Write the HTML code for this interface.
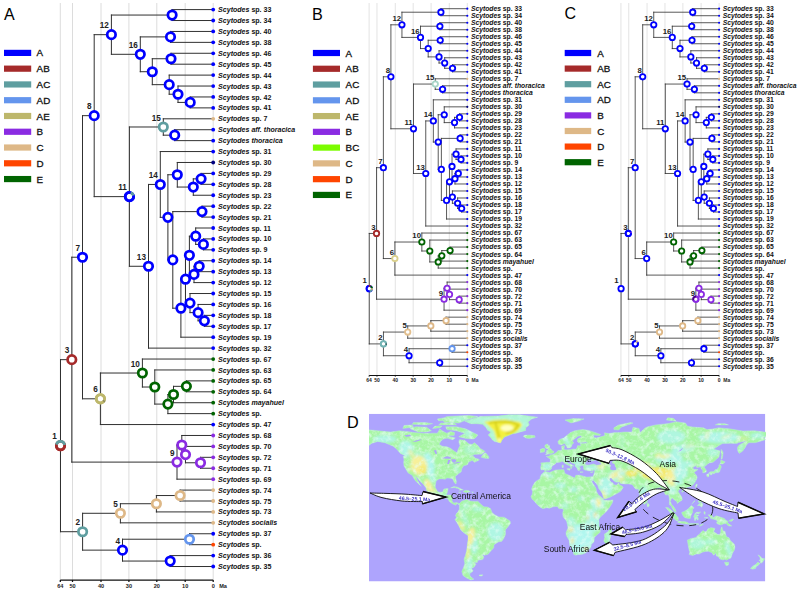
<!DOCTYPE html>
<html><head><meta charset="utf-8"><title>Scytodes biogeography</title>
<style>html,body{margin:0;padding:0;background:#fff}body{width:800px;height:613px;overflow:hidden;font-family:"Liberation Sans",sans-serif}svg{display:block}</style>
</head><body>
<svg width="800" height="613" viewBox="0 0 800 613" font-family="'Liberation Sans', sans-serif">
<text x="4" y="20.3" font-size="16">A</text>
<text x="312" y="19.5" font-size="16.2">B</text>
<text x="564.5" y="19.3" font-size="16">C</text>
<text x="347.1" y="427.6" font-size="16.2">D</text>
<rect x="4" y="49.8" width="27.2" height="6.2" fill="#0000ff"/>
<text x="36.6" y="56.43" font-size="9.8" fill="#111" stroke="#111" stroke-width="0.3">A</text>
<rect x="4" y="65.57" width="27.2" height="6.2" fill="#a52a2a"/>
<text x="36.6" y="72.2" font-size="9.8" fill="#111" stroke="#111" stroke-width="0.3">AB</text>
<rect x="4" y="81.34" width="27.2" height="6.2" fill="#5f9ea0"/>
<text x="36.6" y="87.97" font-size="9.8" fill="#111" stroke="#111" stroke-width="0.3">AC</text>
<rect x="4" y="97.11" width="27.2" height="6.2" fill="#6495ed"/>
<text x="36.6" y="103.74" font-size="9.8" fill="#111" stroke="#111" stroke-width="0.3">AD</text>
<rect x="4" y="112.88" width="27.2" height="6.2" fill="#bdb76b"/>
<text x="36.6" y="119.51" font-size="9.8" fill="#111" stroke="#111" stroke-width="0.3">AE</text>
<rect x="4" y="128.65" width="27.2" height="6.2" fill="#8a2be2"/>
<text x="36.6" y="135.28" font-size="9.8" fill="#111" stroke="#111" stroke-width="0.3">B</text>
<rect x="4" y="144.42" width="27.2" height="6.2" fill="#deb887"/>
<text x="36.6" y="151.05" font-size="9.8" fill="#111" stroke="#111" stroke-width="0.3">C</text>
<rect x="4" y="160.19" width="27.2" height="6.2" fill="#ff4500"/>
<text x="36.6" y="166.82" font-size="9.8" fill="#111" stroke="#111" stroke-width="0.3">D</text>
<rect x="4" y="175.96" width="27.2" height="6.2" fill="#006400"/>
<text x="36.6" y="182.59" font-size="9.8" fill="#111" stroke="#111" stroke-width="0.3">E</text>
<rect x="312.9" y="49.9" width="27.1" height="6.2" fill="#0000ff"/>
<text x="345.6" y="56.53" font-size="9.8" fill="#111" stroke="#111" stroke-width="0.3">A</text>
<rect x="312.9" y="65.67" width="27.1" height="6.2" fill="#a52a2a"/>
<text x="345.6" y="72.3" font-size="9.8" fill="#111" stroke="#111" stroke-width="0.3">AB</text>
<rect x="312.9" y="81.44" width="27.1" height="6.2" fill="#5f9ea0"/>
<text x="345.6" y="88.07" font-size="9.8" fill="#111" stroke="#111" stroke-width="0.3">AC</text>
<rect x="312.9" y="97.21" width="27.1" height="6.2" fill="#6495ed"/>
<text x="345.6" y="103.84" font-size="9.8" fill="#111" stroke="#111" stroke-width="0.3">AD</text>
<rect x="312.9" y="112.98" width="27.1" height="6.2" fill="#bdb76b"/>
<text x="345.6" y="119.61" font-size="9.8" fill="#111" stroke="#111" stroke-width="0.3">AE</text>
<rect x="312.9" y="128.75" width="27.1" height="6.2" fill="#8a2be2"/>
<text x="345.6" y="135.38" font-size="9.8" fill="#111" stroke="#111" stroke-width="0.3">B</text>
<rect x="312.9" y="144.52" width="27.1" height="6.2" fill="#7cfc00"/>
<text x="345.6" y="151.15" font-size="9.8" fill="#111" stroke="#111" stroke-width="0.3">BC</text>
<rect x="312.9" y="160.29" width="27.1" height="6.2" fill="#deb887"/>
<text x="345.6" y="166.92" font-size="9.8" fill="#111" stroke="#111" stroke-width="0.3">C</text>
<rect x="312.9" y="176.06" width="27.1" height="6.2" fill="#ff4500"/>
<text x="345.6" y="182.69" font-size="9.8" fill="#111" stroke="#111" stroke-width="0.3">D</text>
<rect x="312.9" y="191.83" width="27.1" height="6.2" fill="#006400"/>
<text x="345.6" y="198.46" font-size="9.8" fill="#111" stroke="#111" stroke-width="0.3">E</text>
<rect x="564.7" y="49.9" width="26.5" height="6.2" fill="#0000ff"/>
<text x="597.2" y="56.53" font-size="9.8" fill="#111" stroke="#111" stroke-width="0.3">A</text>
<rect x="564.7" y="65.5" width="26.5" height="6.2" fill="#a52a2a"/>
<text x="597.2" y="72.13" font-size="9.8" fill="#111" stroke="#111" stroke-width="0.3">AB</text>
<rect x="564.7" y="81.1" width="26.5" height="6.2" fill="#5f9ea0"/>
<text x="597.2" y="87.73" font-size="9.8" fill="#111" stroke="#111" stroke-width="0.3">AC</text>
<rect x="564.7" y="96.7" width="26.5" height="6.2" fill="#6495ed"/>
<text x="597.2" y="103.33" font-size="9.8" fill="#111" stroke="#111" stroke-width="0.3">AD</text>
<rect x="564.7" y="112.3" width="26.5" height="6.2" fill="#8a2be2"/>
<text x="597.2" y="118.93" font-size="9.8" fill="#111" stroke="#111" stroke-width="0.3">B</text>
<rect x="564.7" y="127.9" width="26.5" height="6.2" fill="#deb887"/>
<text x="597.2" y="134.53" font-size="9.8" fill="#111" stroke="#111" stroke-width="0.3">C</text>
<rect x="564.7" y="143.5" width="26.5" height="6.2" fill="#ff4500"/>
<text x="597.2" y="150.13" font-size="9.8" fill="#111" stroke="#111" stroke-width="0.3">D</text>
<rect x="564.7" y="159.1" width="26.5" height="6.2" fill="#006400"/>
<text x="597.2" y="165.73" font-size="9.8" fill="#111" stroke="#111" stroke-width="0.3">E</text>
<g id="tA"><path d="M60.3 3V580M72.5 3V580M101 3V580M128.9 3V580M156.8 3V580M185.2 3V580M213.2 3V580" stroke="#dcdcdc" stroke-width="1" fill="none"/>
<path d="M172.1 9.6L213.2 9.6M172.1 20.52L213.2 20.52M172.1 9.6L172.1 20.52M111.4 15.06L172.1 15.06M170.5 31.44L213.2 31.44M170.5 42.36L213.2 42.36M170.5 31.44L170.5 42.36M140.3 36.9L170.5 36.9M171 53.28L213.2 53.28M171 64.2L213.2 64.2M171 53.28L171 64.2M152.3 58.74L171 58.74M169.2 75.12L213.2 75.12M178 86.04L213.2 86.04M190.2 96.96L213.2 96.96M190.2 107.88L213.2 107.88M190.2 96.96L190.2 107.88M178 102.42L190.2 102.42M178 86.04L178 102.42M169.2 94.23L178 94.23M169.2 75.12L169.2 94.23M152.3 84.67L169.2 84.67M152.3 58.74L152.3 84.67M140.3 71.71L152.3 71.71M140.3 36.9L140.3 71.71M111.4 54.3L140.3 54.3M111.4 15.06L111.4 54.3M94.2 34.68L111.4 34.68M163.3 118.8L213.2 118.8M174.7 129.72L213.2 129.72M174.7 140.64L213.2 140.64M174.7 129.72L174.7 140.64M163.3 135.18L174.7 135.18M163.3 118.8L163.3 135.18M129.4 126.99L163.3 126.99M160.3 151.56L213.2 151.56M177.3 162.48L213.2 162.48M201.1 173.4L213.2 173.4M201.1 184.32L213.2 184.32M201.1 173.4L201.1 184.32M193.3 178.86L201.1 178.86M193.3 195.24L213.2 195.24M193.3 178.86L193.3 195.24M177.3 187.05L193.3 187.05M177.3 162.48L177.3 187.05M167.9 174.76L177.3 174.76M202 206.16L213.2 206.16M202 217.08L213.2 217.08M202 206.16L202 217.08M172.8 211.62L202 211.62M195.7 228L213.2 228M203.4 238.92L213.2 238.92M203.4 249.84L213.2 249.84M203.4 238.92L203.4 249.84M195.7 244.38L203.4 244.38M195.7 228L195.7 244.38M189.4 236.19L195.7 236.19M199.2 260.76L213.2 260.76M199.2 271.68L213.2 271.68M199.2 260.76L199.2 271.68M194 266.22L199.2 266.22M194 282.6L213.2 282.6M194 266.22L194 282.6M189.4 274.41L194 274.41M189.4 236.19L189.4 274.41M185.5 255.3L189.4 255.3M190 293.52L213.2 293.52M198.1 304.44L213.2 304.44M204.4 315.36L213.2 315.36M204.4 326.28L213.2 326.28M204.4 315.36L204.4 326.28M198.1 320.82L204.4 320.82M198.1 304.44L198.1 320.82M190 312.63L198.1 312.63M190 293.52L190 312.63M185.5 303.08L190 303.08M185.5 255.3L185.5 303.08M180.9 279.19L185.5 279.19M180.9 337.2L213.2 337.2M180.9 279.19L180.9 337.2M172.8 308.19L180.9 308.19M172.8 211.62L172.8 308.19M167.9 259.91L172.8 259.91M167.9 174.76L167.9 259.91M160.3 217.34L167.9 217.34M160.3 151.56L160.3 217.34M148.5 184.45L160.3 184.45M148.5 348.12L213.2 348.12M148.5 184.45L148.5 348.12M129.4 266.28L148.5 266.28M129.4 126.99L129.4 266.28M94.2 196.64L129.4 196.64M94.2 34.68L94.2 196.64M82.5 115.66L94.2 115.66M142.4 359.04L213.2 359.04M154.8 369.96L213.2 369.96M186.4 380.88L213.2 380.88M186.4 391.8L213.2 391.8M186.4 380.88L186.4 391.8M173.5 386.34L186.4 386.34M173.5 402.72L213.2 402.72M173.5 386.34L173.5 402.72M167.9 394.53L173.5 394.53M167.9 413.64L213.2 413.64M167.9 394.53L167.9 413.64M154.8 404.09L167.9 404.09M154.8 369.96L154.8 404.09M142.4 387.02L154.8 387.02M142.4 359.04L142.4 387.02M100.4 373.03L142.4 373.03M100.4 424.56L213.2 424.56M100.4 373.03L100.4 424.56M82.5 398.8L100.4 398.8M82.5 115.66L82.5 398.8M71.8 257.23L82.5 257.23M181.8 435.48L213.2 435.48M185.5 446.4L213.2 446.4M200.5 457.32L213.2 457.32M200.5 468.24L213.2 468.24M200.5 457.32L200.5 468.24M185.5 462.78L200.5 462.78M185.5 446.4L185.5 462.78M181.8 454.59L185.5 454.59M181.8 435.48L181.8 454.59M177 445.04L181.8 445.04M177 479.16L213.2 479.16M177 445.04L177 479.16M71.8 462.1L177 462.1M71.8 257.23L71.8 462.1M60.5 359.66L71.8 359.66M180.1 490.08L213.2 490.08M180.1 501L213.2 501M180.1 490.08L180.1 501M156.4 495.54L180.1 495.54M156.4 511.92L213.2 511.92M156.4 495.54L156.4 511.92M120.4 503.73L156.4 503.73M120.4 522.84L213.2 522.84M120.4 503.73L120.4 522.84M82.6 513.29L120.4 513.29M189.5 533.76L213.2 533.76M189.5 544.68L213.2 544.68M189.5 533.76L189.5 544.68M122.5 539.22L189.5 539.22M170.2 555.6L213.2 555.6M170.2 566.52L213.2 566.52M170.2 555.6L170.2 566.52M122.5 561.06L170.2 561.06M122.5 539.22L122.5 561.06M82.6 550.14L122.5 550.14M82.6 513.29L82.6 550.14M60.5 531.71L82.6 531.71M60.5 359.66L60.5 531.71" stroke="#303030" stroke-width="1" fill="none" stroke-linecap="square"/>
<circle cx="213.2" cy="9.6" r="1.9" fill="#0000ff"/>
<circle cx="213.2" cy="20.52" r="1.9" fill="#0000ff"/>
<circle cx="213.2" cy="31.44" r="1.9" fill="#0000ff"/>
<circle cx="213.2" cy="42.36" r="1.9" fill="#0000ff"/>
<circle cx="213.2" cy="53.28" r="1.9" fill="#0000ff"/>
<circle cx="213.2" cy="64.2" r="1.9" fill="#0000ff"/>
<circle cx="213.2" cy="75.12" r="1.9" fill="#0000ff"/>
<circle cx="213.2" cy="86.04" r="1.9" fill="#0000ff"/>
<circle cx="213.2" cy="96.96" r="1.9" fill="#0000ff"/>
<circle cx="213.2" cy="107.88" r="1.9" fill="#0000ff"/>
<circle cx="213.2" cy="118.8" r="1.9" fill="#deb887"/>
<circle cx="213.2" cy="129.72" r="1.9" fill="#0000ff"/>
<circle cx="213.2" cy="140.64" r="1.9" fill="#0000ff"/>
<circle cx="213.2" cy="151.56" r="1.9" fill="#0000ff"/>
<circle cx="213.2" cy="162.48" r="1.9" fill="#000080"/>
<circle cx="213.2" cy="173.4" r="1.9" fill="#0000ff"/>
<circle cx="213.2" cy="184.32" r="1.9" fill="#0000ff"/>
<circle cx="213.2" cy="195.24" r="1.9" fill="#0000ff"/>
<circle cx="213.2" cy="206.16" r="1.9" fill="#0000ff"/>
<circle cx="213.2" cy="217.08" r="1.9" fill="#0000ff"/>
<circle cx="213.2" cy="228" r="1.9" fill="#0000ff"/>
<circle cx="213.2" cy="238.92" r="1.9" fill="#0000ff"/>
<circle cx="213.2" cy="249.84" r="1.9" fill="#0000ff"/>
<circle cx="213.2" cy="260.76" r="1.9" fill="#0000ff"/>
<circle cx="213.2" cy="271.68" r="1.9" fill="#0000ff"/>
<circle cx="213.2" cy="282.6" r="1.9" fill="#0000ff"/>
<circle cx="213.2" cy="293.52" r="1.9" fill="#0000ff"/>
<circle cx="213.2" cy="304.44" r="1.9" fill="#0000ff"/>
<circle cx="213.2" cy="315.36" r="1.9" fill="#0000ff"/>
<circle cx="213.2" cy="326.28" r="1.9" fill="#0000ff"/>
<circle cx="213.2" cy="337.2" r="1.9" fill="#0000ff"/>
<circle cx="213.2" cy="348.12" r="1.9" fill="#0000ff"/>
<circle cx="213.2" cy="359.04" r="1.9" fill="#006400"/>
<circle cx="213.2" cy="369.96" r="1.9" fill="#006400"/>
<circle cx="213.2" cy="380.88" r="1.9" fill="#006400"/>
<circle cx="213.2" cy="391.8" r="1.9" fill="#006400"/>
<circle cx="213.2" cy="402.72" r="1.9" fill="#006400"/>
<circle cx="213.2" cy="413.64" r="1.9" fill="#006400"/>
<circle cx="213.2" cy="424.56" r="1.9" fill="#0000ff"/>
<circle cx="213.2" cy="435.48" r="1.9" fill="#8a2be2"/>
<circle cx="213.2" cy="446.4" r="1.9" fill="#8a2be2"/>
<circle cx="213.2" cy="457.32" r="1.9" fill="#8a2be2"/>
<circle cx="213.2" cy="468.24" r="1.9" fill="#8a2be2"/>
<circle cx="213.2" cy="479.16" r="1.9" fill="#8a2be2"/>
<circle cx="213.2" cy="490.08" r="1.9" fill="#deb887"/>
<circle cx="213.2" cy="501" r="1.9" fill="#deb887"/>
<circle cx="213.2" cy="511.92" r="1.9" fill="#deb887"/>
<circle cx="213.2" cy="522.84" r="1.9" fill="#deb887"/>
<circle cx="213.2" cy="533.76" r="1.9" fill="#0000ff"/>
<circle cx="213.2" cy="544.68" r="1.9" fill="#ff4500"/>
<circle cx="213.2" cy="555.6" r="1.9" fill="#0000ff"/>
<circle cx="213.2" cy="566.52" r="1.9" fill="#0000ff"/>
<circle cx="172.1" cy="15.06" r="4.2" fill="#fff" stroke="#0000ff" stroke-width="2.75"/>
<circle cx="170.5" cy="36.9" r="4.2" fill="#fff" stroke="#0000ff" stroke-width="2.75"/>
<circle cx="171" cy="58.74" r="4.2" fill="#fff" stroke="#0000ff" stroke-width="2.75"/>
<circle cx="190.2" cy="102.42" r="4.2" fill="#fff" stroke="#0000ff" stroke-width="2.75"/>
<circle cx="178" cy="94.23" r="4.2" fill="#fff" stroke="#0000ff" stroke-width="2.75"/>
<circle cx="169.2" cy="84.67" r="4.2" fill="#fff" stroke="#0000ff" stroke-width="2.75"/>
<circle cx="152.3" cy="71.71" r="4.2" fill="#fff" stroke="#0000ff" stroke-width="2.75"/>
<circle cx="140.3" cy="54.3" r="4.2" fill="#fff" stroke="#0000ff" stroke-width="2.75"/>
<circle cx="111.4" cy="34.68" r="4.2" fill="#fff" stroke="#0000ff" stroke-width="2.75"/>
<circle cx="174.7" cy="135.18" r="4.2" fill="#fff" stroke="#0000ff" stroke-width="2.75"/>
<circle cx="163.3" cy="126.99" r="4.2" fill="#fff" stroke="#5f9ea0" stroke-width="2.75"/>
<circle cx="201.1" cy="178.86" r="4.2" fill="#fff" stroke="#0000ff" stroke-width="2.75"/>
<circle cx="193.3" cy="187.05" r="4.2" fill="#fff" stroke="#0000ff" stroke-width="2.75"/>
<circle cx="177.3" cy="174.76" r="4.2" fill="#fff" stroke="#0000ff" stroke-width="2.75"/>
<circle cx="202" cy="211.62" r="4.2" fill="#fff" stroke="#0000ff" stroke-width="2.75"/>
<circle cx="203.4" cy="244.38" r="4.2" fill="#fff" stroke="#0000ff" stroke-width="2.75"/>
<circle cx="195.7" cy="236.19" r="4.2" fill="#fff" stroke="#0000ff" stroke-width="2.75"/>
<circle cx="199.2" cy="266.22" r="4.2" fill="#fff" stroke="#0000ff" stroke-width="2.75"/>
<circle cx="194" cy="274.41" r="4.2" fill="#fff" stroke="#0000ff" stroke-width="2.75"/>
<circle cx="189.4" cy="255.3" r="4.2" fill="#fff" stroke="#0000ff" stroke-width="2.75"/>
<circle cx="204.4" cy="320.82" r="4.2" fill="#fff" stroke="#0000ff" stroke-width="2.75"/>
<circle cx="198.1" cy="312.63" r="4.2" fill="#fff" stroke="#0000ff" stroke-width="2.75"/>
<circle cx="190" cy="303.08" r="4.2" fill="#fff" stroke="#0000ff" stroke-width="2.75"/>
<circle cx="185.5" cy="279.19" r="4.2" fill="#fff" stroke="#0000ff" stroke-width="2.75"/>
<circle cx="180.9" cy="308.19" r="4.2" fill="#fff" stroke="#0000ff" stroke-width="2.75"/>
<circle cx="172.8" cy="259.91" r="4.2" fill="#fff" stroke="#0000ff" stroke-width="2.75"/>
<circle cx="167.9" cy="217.34" r="4.2" fill="#fff" stroke="#0000ff" stroke-width="2.75"/>
<circle cx="160.3" cy="184.45" r="4.2" fill="#fff" stroke="#0000ff" stroke-width="2.75"/>
<circle cx="148.5" cy="266.28" r="4.2" fill="#fff" stroke="#0000ff" stroke-width="2.75"/>
<circle cx="129.4" cy="196.64" r="4.2" fill="#fff" stroke="#0000ff" stroke-width="2.75"/>
<path d="M130.49 192.58A4.2 4.2 0 0 1 133.48 195.64" stroke="#5f9ea0" stroke-width="2.75" fill="none"/>
<path d="M133.48 195.64A4.2 4.2 0 1 1 130.49 192.58" stroke="#0000ff" stroke-width="2.75" fill="none"/>
<circle cx="94.2" cy="115.66" r="4.2" fill="#fff" stroke="#0000ff" stroke-width="2.75"/>
<circle cx="186.4" cy="386.34" r="4.2" fill="#fff" stroke="#006400" stroke-width="2.75"/>
<circle cx="173.5" cy="394.53" r="4.2" fill="#fff" stroke="#006400" stroke-width="2.75"/>
<circle cx="167.9" cy="404.09" r="4.2" fill="#fff" stroke="#006400" stroke-width="2.75"/>
<circle cx="154.8" cy="387.02" r="4.2" fill="#fff" stroke="#006400" stroke-width="2.75"/>
<circle cx="142.4" cy="373.03" r="4.2" fill="#fff" stroke="#006400" stroke-width="2.75"/>
<circle cx="100.4" cy="398.8" r="4.2" fill="#fff" stroke="#bdb76b" stroke-width="2.75"/>
<path d="M104.35 400.23A4.2 4.2 0 0 1 103.36 401.78" stroke="#8f8c5c" stroke-width="2.75" fill="none"/>
<path d="M103.36 401.78A4.2 4.2 0 1 1 104.35 400.23" stroke="#bdb76b" stroke-width="2.75" fill="none"/>
<circle cx="82.5" cy="257.23" r="4.2" fill="#fff" stroke="#0000ff" stroke-width="2.75"/>
<circle cx="200.5" cy="462.78" r="4.2" fill="#fff" stroke="#8a2be2" stroke-width="2.75"/>
<circle cx="185.5" cy="454.59" r="4.2" fill="#fff" stroke="#8a2be2" stroke-width="2.75"/>
<circle cx="181.8" cy="445.04" r="4.2" fill="#fff" stroke="#8a2be2" stroke-width="2.75"/>
<circle cx="177" cy="462.1" r="4.2" fill="#fff" stroke="#8a2be2" stroke-width="2.75"/>
<circle cx="71.8" cy="359.66" r="4.2" fill="#fff" stroke="#a52a2a" stroke-width="2.75"/>
<circle cx="180.1" cy="495.54" r="4.2" fill="#fff" stroke="#deb887" stroke-width="2.75"/>
<circle cx="156.4" cy="503.73" r="4.2" fill="#fff" stroke="#deb887" stroke-width="2.75"/>
<circle cx="120.4" cy="513.29" r="4.2" fill="#fff" stroke="#deb887" stroke-width="2.75"/>
<circle cx="189.5" cy="539.22" r="4.2" fill="#fff" stroke="#6495ed" stroke-width="2.75"/>
<circle cx="170.2" cy="561.06" r="4.2" fill="#fff" stroke="#0000ff" stroke-width="2.75"/>
<circle cx="122.5" cy="550.14" r="4.2" fill="#fff" stroke="#0000ff" stroke-width="2.75"/>
<circle cx="82.6" cy="531.71" r="4.2" fill="#fff" stroke="#5f9ea0" stroke-width="2.75"/>
<circle cx="60.5" cy="445.69" r="4.2" fill="#fff" stroke="#a52a2a" stroke-width="2.75"/>
<path d="M56.39 444.81A4.2 4.2 0 0 1 64.64 444.99" stroke="#5f9ea0" stroke-width="2.75" fill="none"/>
<path d="M64.64 444.99A4.2 4.2 0 1 1 56.39 444.81" stroke="#a52a2a" stroke-width="2.75" fill="none"/>
<g font-size="8.2" font-weight="bold" text-anchor="end" fill="#222">
<text x="137.74" y="47.93">16</text>
<text x="108.84" y="28.31">12</text>
<text x="160.74" y="120.62">15</text>
<text x="157.74" y="178.07">14</text>
<text x="145.94" y="259.91">13</text>
<text x="126.84" y="190.26">11</text>
<text x="91.64" y="109.28">8</text>
<text x="139.84" y="366.66">10</text>
<text x="97.84" y="392.42">6</text>
<text x="79.94" y="250.85">7</text>
<text x="174.44" y="455.72">9</text>
<text x="69.24" y="353.29">3</text>
<text x="117.84" y="506.91">5</text>
<text x="119.94" y="543.76">4</text>
<text x="80.04" y="525.34">2</text>
<text x="56.74" y="438.91">1</text>
</g>
<g font-size="7.05" font-weight="bold" fill="#111">
<text x="218.1" y="12.14"><tspan font-style="italic">Scytodes</tspan> sp. 33</text>
<text x="218.1" y="23.06"><tspan font-style="italic">Scytodes</tspan> sp. 34</text>
<text x="218.1" y="33.98"><tspan font-style="italic">Scytodes</tspan> sp. 40</text>
<text x="218.1" y="44.9"><tspan font-style="italic">Scytodes</tspan> sp. 38</text>
<text x="218.1" y="55.82"><tspan font-style="italic">Scytodes</tspan> sp. 46</text>
<text x="218.1" y="66.74"><tspan font-style="italic">Scytodes</tspan> sp. 45</text>
<text x="218.1" y="77.66"><tspan font-style="italic">Scytodes</tspan> sp. 44</text>
<text x="218.1" y="88.58"><tspan font-style="italic">Scytodes</tspan> sp. 43</text>
<text x="218.1" y="99.5"><tspan font-style="italic">Scytodes</tspan> sp. 42</text>
<text x="218.1" y="110.42"><tspan font-style="italic">Scytodes</tspan> sp. 41</text>
<text x="218.1" y="121.34"><tspan font-style="italic">Scytodes</tspan> sp. 7</text>
<text x="218.1" y="132.26"><tspan font-style="italic">Scytodes aff. thoracica</tspan></text>
<text x="218.1" y="143.18"><tspan font-style="italic">Scytodes thoracica</tspan></text>
<text x="218.1" y="154.1"><tspan font-style="italic">Scytodes</tspan> sp. 31</text>
<text x="218.1" y="165.02"><tspan font-style="italic">Scytodes</tspan> sp. 30</text>
<text x="218.1" y="175.94"><tspan font-style="italic">Scytodes</tspan> sp. 29</text>
<text x="218.1" y="186.86"><tspan font-style="italic">Scytodes</tspan> sp. 28</text>
<text x="218.1" y="197.78"><tspan font-style="italic">Scytodes</tspan> sp. 23</text>
<text x="218.1" y="208.7"><tspan font-style="italic">Scytodes</tspan> sp. 22</text>
<text x="218.1" y="219.62"><tspan font-style="italic">Scytodes</tspan> sp. 21</text>
<text x="218.1" y="230.54"><tspan font-style="italic">Scytodes</tspan> sp. 11</text>
<text x="218.1" y="241.46"><tspan font-style="italic">Scytodes</tspan> sp. 10</text>
<text x="218.1" y="252.38"><tspan font-style="italic">Scytodes</tspan> sp. 9</text>
<text x="218.1" y="263.3"><tspan font-style="italic">Scytodes</tspan> sp. 14</text>
<text x="218.1" y="274.22"><tspan font-style="italic">Scytodes</tspan> sp. 13</text>
<text x="218.1" y="285.14"><tspan font-style="italic">Scytodes</tspan> sp. 12</text>
<text x="218.1" y="296.06"><tspan font-style="italic">Scytodes</tspan> sp. 15</text>
<text x="218.1" y="306.98"><tspan font-style="italic">Scytodes</tspan> sp. 16</text>
<text x="218.1" y="317.9"><tspan font-style="italic">Scytodes</tspan> sp. 18</text>
<text x="218.1" y="328.82"><tspan font-style="italic">Scytodes</tspan> sp. 17</text>
<text x="218.1" y="339.74"><tspan font-style="italic">Scytodes</tspan> sp. 19</text>
<text x="218.1" y="350.66"><tspan font-style="italic">Scytodes</tspan> sp. 32</text>
<text x="218.1" y="361.58"><tspan font-style="italic">Scytodes</tspan> sp. 67</text>
<text x="218.1" y="372.5"><tspan font-style="italic">Scytodes</tspan> sp. 63</text>
<text x="218.1" y="383.42"><tspan font-style="italic">Scytodes</tspan> sp. 65</text>
<text x="218.1" y="394.34"><tspan font-style="italic">Scytodes</tspan> sp. 64</text>
<text x="218.1" y="405.26"><tspan font-style="italic">Scytodes mayahuel</tspan></text>
<text x="218.1" y="416.18"><tspan font-style="italic">Scytodes</tspan> sp.</text>
<text x="218.1" y="427.1"><tspan font-style="italic">Scytodes</tspan> sp. 47</text>
<text x="218.1" y="438.02"><tspan font-style="italic">Scytodes</tspan> sp. 68</text>
<text x="218.1" y="448.94"><tspan font-style="italic">Scytodes</tspan> sp. 70</text>
<text x="218.1" y="459.86"><tspan font-style="italic">Scytodes</tspan> sp. 72</text>
<text x="218.1" y="470.78"><tspan font-style="italic">Scytodes</tspan> sp. 71</text>
<text x="218.1" y="481.7"><tspan font-style="italic">Scytodes</tspan> sp. 69</text>
<text x="218.1" y="492.62"><tspan font-style="italic">Scytodes</tspan> sp. 74</text>
<text x="218.1" y="503.54"><tspan font-style="italic">Scytodes</tspan> sp. 75</text>
<text x="218.1" y="514.46"><tspan font-style="italic">Scytodes</tspan> sp. 73</text>
<text x="218.1" y="525.38"><tspan font-style="italic">Scytodes socialis</tspan></text>
<text x="218.1" y="536.3"><tspan font-style="italic">Scytodes</tspan> sp. 37</text>
<text x="218.1" y="547.22"><tspan font-style="italic">Scytodes</tspan> sp.</text>
<text x="218.1" y="558.14"><tspan font-style="italic">Scytodes</tspan> sp. 36</text>
<text x="218.1" y="569.06"><tspan font-style="italic">Scytodes</tspan> sp. 35</text>
</g>
<path d="M60.3 580.1H213.2M60.3 580.1v1.8M72.5 580.1v1.8M101 580.1v1.8M128.9 580.1v1.8M156.8 580.1v1.8M185.2 580.1v1.8M213.2 580.1v1.8" stroke="#111" stroke-width="1.25" fill="none"/>
<g font-size="5.6" font-weight="bold" text-anchor="middle" fill="#222">
<text x="60.3" y="587.62">64</text>
<text x="72.5" y="587.62">50</text>
<text x="101" y="587.62">40</text>
<text x="128.9" y="587.62">30</text>
<text x="156.8" y="587.62">20</text>
<text x="185.2" y="587.62">10</text>
<text x="213.2" y="587.62">0</text>
<text x="219.2" y="587.62" text-anchor="start">Ma</text>
</g></g>
<g id="tB"><path d="M369.14 3V375.5M376.97 3V375.5M395.27 3V375.5M413.18 3V375.5M431.09 3V375.5M449.32 3V375.5M467.3 3V375.5" stroke="#dcdcdc" stroke-width="0.8" fill="none"/>
<path d="M440.91 8.7L467.3 8.7M440.91 15.71L467.3 15.71M440.91 8.7L440.91 15.71M401.94 12.21L440.91 12.21M439.89 22.72L467.3 22.72M439.89 29.73L467.3 29.73M439.89 22.72L439.89 29.73M420.5 26.23L439.89 26.23M440.21 36.74L467.3 36.74M440.21 43.75L467.3 43.75M440.21 36.74L440.21 43.75M428.2 40.25L440.21 40.25M439.05 50.76L467.3 50.76M444.7 57.77L467.3 57.77M452.53 64.79L467.3 64.79M452.53 71.8L467.3 71.8M452.53 64.79L452.53 71.8M444.7 68.29L452.53 68.29M444.7 57.77L444.7 68.29M439.05 63.03L444.7 63.03M439.05 50.76L439.05 63.03M428.2 56.9L439.05 56.9M428.2 40.25L428.2 56.9M420.5 48.57L428.2 48.57M420.5 26.23L420.5 48.57M401.94 37.4L420.5 37.4M401.94 12.21L401.94 37.4M390.9 24.8L401.94 24.8M435.26 78.81L467.3 78.81M442.58 85.82L467.3 85.82M442.58 92.83L467.3 92.83M442.58 85.82L442.58 92.83M435.26 89.32L442.58 89.32M435.26 78.81L435.26 89.32M413.5 84.06L435.26 84.06M433.34 99.84L467.3 99.84M444.25 106.85L467.3 106.85M459.53 113.86L467.3 113.86M459.53 120.87L467.3 120.87M459.53 113.86L459.53 120.87M454.52 117.36L459.53 117.36M454.52 127.88L467.3 127.88M454.52 117.36L454.52 127.88M444.25 122.62L454.52 122.62M444.25 106.85L444.25 122.62M438.22 114.74L444.25 114.74M460.11 134.89L467.3 134.89M460.11 141.9L467.3 141.9M460.11 134.89L460.11 141.9M441.36 138.4L460.11 138.4M456.06 148.91L467.3 148.91M461.01 155.92L467.3 155.92M461.01 162.93L467.3 162.93M461.01 155.92L461.01 162.93M456.06 159.43L461.01 159.43M456.06 148.91L456.06 159.43M452.02 154.17L456.06 154.17M458.31 169.94L467.3 169.94M458.31 176.96L467.3 176.96M458.31 169.94L458.31 176.96M454.97 173.45L458.31 173.45M454.97 183.97L467.3 183.97M454.97 173.45L454.97 183.97M452.02 178.71L454.97 178.71M452.02 154.17L452.02 178.71M449.52 166.44L452.02 166.44M452.41 190.98L467.3 190.98M457.61 197.99L467.3 197.99M461.65 205L467.3 205M461.65 212.01L467.3 212.01M461.65 205L461.65 212.01M457.61 208.5L461.65 208.5M457.61 197.99L457.61 208.5M452.41 203.25L457.61 203.25M452.41 190.98L452.41 203.25M449.52 197.11L452.41 197.11M449.52 166.44L449.52 197.11M446.56 181.78L449.52 181.78M446.56 219.02L467.3 219.02M446.56 181.78L446.56 219.02M441.36 200.4L446.56 200.4M441.36 138.4L441.36 200.4M438.22 169.4L441.36 169.4M438.22 114.74L438.22 169.4M433.34 142.07L438.22 142.07M433.34 99.84L433.34 142.07M425.76 120.95L433.34 120.95M425.76 226.03L467.3 226.03M425.76 120.95L425.76 226.03M413.5 173.49L425.76 173.49M413.5 84.06L413.5 173.49M390.9 128.78L413.5 128.78M390.9 24.8L390.9 128.78M383.39 76.79L390.9 76.79M421.85 233.04L467.3 233.04M429.81 240.05L467.3 240.05M450.09 247.06L467.3 247.06M450.09 254.07L467.3 254.07M450.09 247.06L450.09 254.07M441.81 250.57L450.09 250.57M441.81 261.08L467.3 261.08M441.81 250.57L441.81 261.08M438.22 255.83L441.81 255.83M438.22 268.09L467.3 268.09M438.22 255.83L438.22 268.09M429.81 261.96L438.22 261.96M429.81 240.05L429.81 261.96M421.85 251.01L429.81 251.01M421.85 233.04L421.85 251.01M394.88 242.02L421.85 242.02M394.88 275.1L467.3 275.1M394.88 242.02L394.88 275.1M383.39 258.56L394.88 258.56M383.39 76.79L383.39 258.56M376.52 167.68L383.39 167.68M447.14 282.11L467.3 282.11M449.52 289.13L467.3 289.13M459.15 296.14L467.3 296.14M459.15 303.15L467.3 303.15M459.15 296.14L459.15 303.15M449.52 299.64L459.15 299.64M449.52 289.13L449.52 299.64M447.14 294.38L449.52 294.38M447.14 282.11L447.14 294.38M444.06 288.25L447.14 288.25M444.06 310.16L467.3 310.16M444.06 288.25L444.06 310.16M376.52 299.2L444.06 299.2M376.52 167.68L376.52 299.2M369.27 233.44L376.52 233.44M446.05 317.17L467.3 317.17M446.05 324.18L467.3 324.18M446.05 317.17L446.05 324.18M430.83 320.67L446.05 320.67M430.83 331.19L467.3 331.19M430.83 320.67L430.83 331.19M407.72 325.93L430.83 325.93M407.72 338.2L467.3 338.2M407.72 325.93L407.72 338.2M383.45 332.07L407.72 332.07M452.08 345.21L467.3 345.21M452.08 352.22L467.3 352.22M452.08 345.21L452.08 352.22M409.07 348.72L452.08 348.72M439.69 359.23L467.3 359.23M439.69 366.24L467.3 366.24M439.69 359.23L439.69 366.24M409.07 362.74L439.69 362.74M409.07 348.72L409.07 362.74M383.45 355.73L409.07 355.73M383.45 332.07L383.45 355.73M369.27 343.9L383.45 343.9M369.27 233.44L369.27 343.9" stroke="#303030" stroke-width="0.8" fill="none" stroke-linecap="square"/>
<circle cx="467.3" cy="8.7" r="1.08" fill="#0000ff"/>
<circle cx="467.3" cy="15.71" r="1.08" fill="#0000ff"/>
<circle cx="467.3" cy="22.72" r="1.08" fill="#0000ff"/>
<circle cx="467.3" cy="29.73" r="1.08" fill="#0000ff"/>
<circle cx="467.3" cy="36.74" r="1.08" fill="#0000ff"/>
<circle cx="467.3" cy="43.75" r="1.08" fill="#0000ff"/>
<circle cx="467.3" cy="50.76" r="1.08" fill="#0000ff"/>
<circle cx="467.3" cy="57.77" r="1.08" fill="#0000ff"/>
<circle cx="467.3" cy="64.79" r="1.08" fill="#0000ff"/>
<circle cx="467.3" cy="71.8" r="1.08" fill="#0000ff"/>
<circle cx="467.3" cy="78.81" r="1.08" fill="#deb887"/>
<circle cx="467.3" cy="85.82" r="1.08" fill="#0000ff"/>
<circle cx="467.3" cy="92.83" r="1.08" fill="#0000ff"/>
<circle cx="467.3" cy="99.84" r="1.08" fill="#0000ff"/>
<circle cx="467.3" cy="106.85" r="1.08" fill="#000080"/>
<circle cx="467.3" cy="113.86" r="1.08" fill="#0000ff"/>
<circle cx="467.3" cy="120.87" r="1.08" fill="#0000ff"/>
<circle cx="467.3" cy="127.88" r="1.08" fill="#0000ff"/>
<circle cx="467.3" cy="134.89" r="1.08" fill="#0000ff"/>
<circle cx="467.3" cy="141.9" r="1.08" fill="#0000ff"/>
<circle cx="467.3" cy="148.91" r="1.08" fill="#0000ff"/>
<circle cx="467.3" cy="155.92" r="1.08" fill="#0000ff"/>
<circle cx="467.3" cy="162.93" r="1.08" fill="#0000ff"/>
<circle cx="467.3" cy="169.94" r="1.08" fill="#0000ff"/>
<circle cx="467.3" cy="176.96" r="1.08" fill="#0000ff"/>
<circle cx="467.3" cy="183.97" r="1.08" fill="#0000ff"/>
<circle cx="467.3" cy="190.98" r="1.08" fill="#0000ff"/>
<circle cx="467.3" cy="197.99" r="1.08" fill="#0000ff"/>
<circle cx="467.3" cy="205" r="1.08" fill="#0000ff"/>
<circle cx="467.3" cy="212.01" r="1.08" fill="#0000ff"/>
<circle cx="467.3" cy="219.02" r="1.08" fill="#0000ff"/>
<circle cx="467.3" cy="226.03" r="1.08" fill="#0000ff"/>
<circle cx="467.3" cy="233.04" r="1.08" fill="#006400"/>
<circle cx="467.3" cy="240.05" r="1.08" fill="#006400"/>
<circle cx="467.3" cy="247.06" r="1.08" fill="#006400"/>
<circle cx="467.3" cy="254.07" r="1.08" fill="#006400"/>
<circle cx="467.3" cy="261.08" r="1.08" fill="#006400"/>
<circle cx="467.3" cy="268.09" r="1.08" fill="#006400"/>
<circle cx="467.3" cy="275.1" r="1.08" fill="#0000ff"/>
<circle cx="467.3" cy="282.11" r="1.08" fill="#8a2be2"/>
<circle cx="467.3" cy="289.13" r="1.08" fill="#8a2be2"/>
<circle cx="467.3" cy="296.14" r="1.08" fill="#8a2be2"/>
<circle cx="467.3" cy="303.15" r="1.08" fill="#8a2be2"/>
<circle cx="467.3" cy="310.16" r="1.08" fill="#8a2be2"/>
<circle cx="467.3" cy="317.17" r="1.08" fill="#deb887"/>
<circle cx="467.3" cy="324.18" r="1.08" fill="#deb887"/>
<circle cx="467.3" cy="331.19" r="1.08" fill="#deb887"/>
<circle cx="467.3" cy="338.2" r="1.08" fill="#deb887"/>
<circle cx="467.3" cy="345.21" r="1.08" fill="#0000ff"/>
<circle cx="467.3" cy="352.22" r="1.08" fill="#ff4500"/>
<circle cx="467.3" cy="359.23" r="1.08" fill="#0000ff"/>
<circle cx="467.3" cy="366.24" r="1.08" fill="#0000ff"/>
<circle cx="440.91" cy="12.21" r="2.7" fill="#fff" stroke="#0000ff" stroke-width="1.8"/>
<circle cx="439.89" cy="26.23" r="2.7" fill="#fff" stroke="#0000ff" stroke-width="1.8"/>
<circle cx="440.21" cy="40.25" r="2.7" fill="#fff" stroke="#0000ff" stroke-width="1.8"/>
<circle cx="452.53" cy="68.29" r="2.7" fill="#fff" stroke="#0000ff" stroke-width="1.8"/>
<circle cx="444.7" cy="63.03" r="2.7" fill="#fff" stroke="#0000ff" stroke-width="1.8"/>
<circle cx="439.05" cy="56.9" r="2.7" fill="#fff" stroke="#0000ff" stroke-width="1.8"/>
<circle cx="428.2" cy="48.57" r="2.7" fill="#fff" stroke="#0000ff" stroke-width="1.8"/>
<circle cx="420.5" cy="37.4" r="2.7" fill="#fff" stroke="#0000ff" stroke-width="1.8"/>
<circle cx="401.94" cy="24.8" r="2.7" fill="#fff" stroke="#0000ff" stroke-width="1.8"/>
<circle cx="442.58" cy="89.32" r="2.7" fill="#fff" stroke="#0000ff" stroke-width="1.8"/>
<circle cx="435.26" cy="84.06" r="2.7" fill="#fff" stroke="#a8d5c8" stroke-width="1.8"/>
<circle cx="459.53" cy="117.36" r="2.7" fill="#fff" stroke="#0000ff" stroke-width="1.8"/>
<circle cx="454.52" cy="122.62" r="2.7" fill="#fff" stroke="#0000ff" stroke-width="1.8"/>
<circle cx="444.25" cy="114.74" r="2.7" fill="#fff" stroke="#0000ff" stroke-width="1.8"/>
<circle cx="460.11" cy="138.4" r="2.7" fill="#fff" stroke="#0000ff" stroke-width="1.8"/>
<circle cx="461.01" cy="159.43" r="2.7" fill="#fff" stroke="#0000ff" stroke-width="1.8"/>
<circle cx="456.06" cy="154.17" r="2.7" fill="#fff" stroke="#0000ff" stroke-width="1.8"/>
<circle cx="458.31" cy="173.45" r="2.7" fill="#fff" stroke="#0000ff" stroke-width="1.8"/>
<circle cx="454.97" cy="178.71" r="2.7" fill="#fff" stroke="#0000ff" stroke-width="1.8"/>
<circle cx="452.02" cy="166.44" r="2.7" fill="#fff" stroke="#0000ff" stroke-width="1.8"/>
<circle cx="461.65" cy="208.5" r="2.7" fill="#fff" stroke="#0000ff" stroke-width="1.8"/>
<circle cx="457.61" cy="203.25" r="2.7" fill="#fff" stroke="#0000ff" stroke-width="1.8"/>
<circle cx="452.41" cy="197.11" r="2.7" fill="#fff" stroke="#0000ff" stroke-width="1.8"/>
<circle cx="449.52" cy="181.78" r="2.7" fill="#fff" stroke="#0000ff" stroke-width="1.8"/>
<circle cx="446.56" cy="200.4" r="2.7" fill="#fff" stroke="#0000ff" stroke-width="1.8"/>
<circle cx="441.36" cy="169.4" r="2.7" fill="#fff" stroke="#0000ff" stroke-width="1.8"/>
<circle cx="438.22" cy="142.07" r="2.7" fill="#fff" stroke="#0000ff" stroke-width="1.8"/>
<circle cx="433.34" cy="120.95" r="2.7" fill="#fff" stroke="#0000ff" stroke-width="1.8"/>
<circle cx="425.76" cy="173.49" r="2.7" fill="#fff" stroke="#0000ff" stroke-width="1.8"/>
<circle cx="413.5" cy="128.78" r="2.7" fill="#fff" stroke="#0000ff" stroke-width="1.8"/>
<circle cx="390.9" cy="76.79" r="2.7" fill="#fff" stroke="#0000ff" stroke-width="1.8"/>
<circle cx="450.09" cy="250.57" r="2.7" fill="#fff" stroke="#006400" stroke-width="1.8"/>
<circle cx="441.81" cy="255.83" r="2.7" fill="#fff" stroke="#006400" stroke-width="1.8"/>
<circle cx="438.22" cy="261.96" r="2.7" fill="#fff" stroke="#006400" stroke-width="1.8"/>
<circle cx="429.81" cy="251.01" r="2.7" fill="#fff" stroke="#006400" stroke-width="1.8"/>
<circle cx="421.85" cy="242.02" r="2.7" fill="#fff" stroke="#006400" stroke-width="1.8"/>
<circle cx="394.88" cy="258.56" r="2.7" fill="#fff" stroke="#d9cf8a" stroke-width="1.8"/>
<circle cx="383.39" cy="167.68" r="2.7" fill="#fff" stroke="#0000ff" stroke-width="1.8"/>
<circle cx="459.15" cy="299.64" r="2.7" fill="#fff" stroke="#8a2be2" stroke-width="1.8"/>
<circle cx="449.52" cy="294.38" r="2.7" fill="#fff" stroke="#8a2be2" stroke-width="1.8"/>
<circle cx="447.14" cy="288.25" r="2.7" fill="#fff" stroke="#8a2be2" stroke-width="1.8"/>
<circle cx="444.06" cy="299.2" r="2.7" fill="#fff" stroke="#8a2be2" stroke-width="1.8"/>
<circle cx="376.52" cy="233.44" r="2.7" fill="#fff" stroke="#a52a2a" stroke-width="1.8"/>
<circle cx="446.05" cy="320.67" r="2.7" fill="#fff" stroke="#deb887" stroke-width="1.8"/>
<circle cx="430.83" cy="325.93" r="2.7" fill="#fff" stroke="#deb887" stroke-width="1.8"/>
<circle cx="407.72" cy="332.07" r="2.7" fill="#fff" stroke="#e3c08f" stroke-width="1.8"/>
<circle cx="452.08" cy="348.72" r="2.7" fill="#fff" stroke="#6495ed" stroke-width="1.8"/>
<circle cx="439.69" cy="362.74" r="2.7" fill="#fff" stroke="#0000ff" stroke-width="1.8"/>
<circle cx="409.07" cy="355.73" r="2.7" fill="#fff" stroke="#0000ff" stroke-width="1.8"/>
<circle cx="383.45" cy="343.9" r="2.7" fill="#fff" stroke="#74b4b4" stroke-width="1.8"/>
<path d="M386.11 343.43A2.7 2.7 0 0 1 386.01 344.77" stroke="#2f4f4f" stroke-width="1.8" fill="none"/>
<path d="M386.01 344.77A2.7 2.7 0 1 1 386.11 343.43" stroke="#74b4b4" stroke-width="1.8" fill="none"/>
<circle cx="369.27" cy="288.67" r="2.7" fill="#fff" stroke="#0000ff" stroke-width="1.8"/>
<path d="M369.74 291.33A2.7 2.7 0 0 1 368.8 286.01" stroke="#0000ff" stroke-width="1.8" fill="none"/>
<path d="M368.8 286.01A2.7 2.7 0 0 1 370.6 286.32" stroke="#a52a2a" stroke-width="1.8" fill="none"/>
<path d="M370.6 286.32A2.7 2.7 0 0 1 371.93 288.2" stroke="#006400" stroke-width="1.8" fill="none"/>
<path d="M371.93 288.2A2.7 2.7 0 0 1 371.61 290" stroke="#d8d060" stroke-width="1.8" fill="none"/>
<path d="M371.61 290A2.7 2.7 0 0 1 369.74 291.33" stroke="#5f9ea0" stroke-width="1.8" fill="none"/>
<g font-size="7.8" font-weight="bold" text-anchor="end" fill="#222">
<text x="419.64" y="33.8">16</text>
<text x="401.09" y="21.2">12</text>
<text x="434.41" y="80.46">15</text>
<text x="432.48" y="117.35">14</text>
<text x="424.91" y="169.89">13</text>
<text x="412.64" y="125.18">11</text>
<text x="390.05" y="73.19">8</text>
<text x="420.99" y="238.42">10</text>
<text x="394.03" y="254.96">6</text>
<text x="382.53" y="164.08">7</text>
<text x="443.2" y="295.6">9</text>
<text x="375.67" y="229.84">3</text>
<text x="406.87" y="328.47">5</text>
<text x="408.21" y="352.13">4</text>
<text x="382.6" y="340.3">2</text>
<text x="366.81" y="283.47">1</text>
</g>
<g font-size="6.75" font-weight="bold" fill="#111">
<text x="470.9" y="11.13"><tspan font-style="italic">Scytodes</tspan> sp. 33</text>
<text x="470.9" y="18.14"><tspan font-style="italic">Scytodes</tspan> sp. 34</text>
<text x="470.9" y="25.15"><tspan font-style="italic">Scytodes</tspan> sp. 40</text>
<text x="470.9" y="32.16"><tspan font-style="italic">Scytodes</tspan> sp. 38</text>
<text x="470.9" y="39.17"><tspan font-style="italic">Scytodes</tspan> sp. 46</text>
<text x="470.9" y="46.18"><tspan font-style="italic">Scytodes</tspan> sp. 45</text>
<text x="470.9" y="53.19"><tspan font-style="italic">Scytodes</tspan> sp. 44</text>
<text x="470.9" y="60.2"><tspan font-style="italic">Scytodes</tspan> sp. 43</text>
<text x="470.9" y="67.22"><tspan font-style="italic">Scytodes</tspan> sp. 42</text>
<text x="470.9" y="74.23"><tspan font-style="italic">Scytodes</tspan> sp. 41</text>
<text x="470.9" y="81.24"><tspan font-style="italic">Scytodes</tspan> sp. 7</text>
<text x="470.9" y="88.25"><tspan font-style="italic">Scytodes aff. thoracica</tspan></text>
<text x="470.9" y="95.26"><tspan font-style="italic">Scytodes thoracica</tspan></text>
<text x="470.9" y="102.27"><tspan font-style="italic">Scytodes</tspan> sp. 31</text>
<text x="470.9" y="109.28"><tspan font-style="italic">Scytodes</tspan> sp. 30</text>
<text x="470.9" y="116.29"><tspan font-style="italic">Scytodes</tspan> sp. 29</text>
<text x="470.9" y="123.3"><tspan font-style="italic">Scytodes</tspan> sp. 28</text>
<text x="470.9" y="130.31"><tspan font-style="italic">Scytodes</tspan> sp. 23</text>
<text x="470.9" y="137.32"><tspan font-style="italic">Scytodes</tspan> sp. 22</text>
<text x="470.9" y="144.33"><tspan font-style="italic">Scytodes</tspan> sp. 21</text>
<text x="470.9" y="151.34"><tspan font-style="italic">Scytodes</tspan> sp. 11</text>
<text x="470.9" y="158.35"><tspan font-style="italic">Scytodes</tspan> sp. 10</text>
<text x="470.9" y="165.36"><tspan font-style="italic">Scytodes</tspan> sp. 9</text>
<text x="470.9" y="172.37"><tspan font-style="italic">Scytodes</tspan> sp. 14</text>
<text x="470.9" y="179.39"><tspan font-style="italic">Scytodes</tspan> sp. 13</text>
<text x="470.9" y="186.4"><tspan font-style="italic">Scytodes</tspan> sp. 12</text>
<text x="470.9" y="193.41"><tspan font-style="italic">Scytodes</tspan> sp. 15</text>
<text x="470.9" y="200.42"><tspan font-style="italic">Scytodes</tspan> sp. 16</text>
<text x="470.9" y="207.43"><tspan font-style="italic">Scytodes</tspan> sp. 18</text>
<text x="470.9" y="214.44"><tspan font-style="italic">Scytodes</tspan> sp. 17</text>
<text x="470.9" y="221.45"><tspan font-style="italic">Scytodes</tspan> sp. 19</text>
<text x="470.9" y="228.46"><tspan font-style="italic">Scytodes</tspan> sp. 32</text>
<text x="470.9" y="235.47"><tspan font-style="italic">Scytodes</tspan> sp. 67</text>
<text x="470.9" y="242.48"><tspan font-style="italic">Scytodes</tspan> sp. 63</text>
<text x="470.9" y="249.49"><tspan font-style="italic">Scytodes</tspan> sp. 65</text>
<text x="470.9" y="256.5"><tspan font-style="italic">Scytodes</tspan> sp. 64</text>
<text x="470.9" y="263.51"><tspan font-style="italic">Scytodes mayahuel</tspan></text>
<text x="470.9" y="270.52"><tspan font-style="italic">Scytodes</tspan> sp.</text>
<text x="470.9" y="277.53"><tspan font-style="italic">Scytodes</tspan> sp. 47</text>
<text x="470.9" y="284.54"><tspan font-style="italic">Scytodes</tspan> sp. 68</text>
<text x="470.9" y="291.56"><tspan font-style="italic">Scytodes</tspan> sp. 70</text>
<text x="470.9" y="298.57"><tspan font-style="italic">Scytodes</tspan> sp. 72</text>
<text x="470.9" y="305.58"><tspan font-style="italic">Scytodes</tspan> sp. 71</text>
<text x="470.9" y="312.59"><tspan font-style="italic">Scytodes</tspan> sp. 69</text>
<text x="470.9" y="319.6"><tspan font-style="italic">Scytodes</tspan> sp. 74</text>
<text x="470.9" y="326.61"><tspan font-style="italic">Scytodes</tspan> sp. 75</text>
<text x="470.9" y="333.62"><tspan font-style="italic">Scytodes</tspan> sp. 73</text>
<text x="470.9" y="340.63"><tspan font-style="italic">Scytodes socialis</tspan></text>
<text x="470.9" y="347.64"><tspan font-style="italic">Scytodes</tspan> sp. 37</text>
<text x="470.9" y="354.65"><tspan font-style="italic">Scytodes</tspan> sp.</text>
<text x="470.9" y="361.66"><tspan font-style="italic">Scytodes</tspan> sp. 36</text>
<text x="470.9" y="368.67"><tspan font-style="italic">Scytodes</tspan> sp. 35</text>
</g>
<path d="M369.14 375.5H467.3M369.14 375.5v1.16M376.97 375.5v1.16M395.27 375.5v1.16M413.18 375.5v1.16M431.09 375.5v1.16M449.32 375.5v1.16M467.3 375.5v1.16" stroke="#111" stroke-width="1" fill="none"/>
<g font-size="5" font-weight="bold" text-anchor="middle" fill="#222">
<text x="369.14" y="381.66">64</text>
<text x="376.97" y="381.66">50</text>
<text x="395.27" y="381.66">40</text>
<text x="413.18" y="381.66">30</text>
<text x="431.09" y="381.66">20</text>
<text x="449.32" y="381.66">10</text>
<text x="467.3" y="381.66">0</text>
<text x="471.51" y="381.66" text-anchor="start">Ma</text>
</g></g>
<g id="tC"><path d="M620.94 3V375.5M628.77 3V375.5M647.07 3V375.5M664.98 3V375.5M682.89 3V375.5M701.12 3V375.5M719.1 3V375.5" stroke="#dcdcdc" stroke-width="0.8" fill="none"/>
<path d="M692.71 8.7L719.1 8.7M692.71 15.71L719.1 15.71M692.71 8.7L692.71 15.71M653.74 12.21L692.71 12.21M691.69 22.72L719.1 22.72M691.69 29.73L719.1 29.73M691.69 22.72L691.69 29.73M672.3 26.23L691.69 26.23M692.01 36.74L719.1 36.74M692.01 43.75L719.1 43.75M692.01 36.74L692.01 43.75M680 40.25L692.01 40.25M690.85 50.76L719.1 50.76M696.5 57.77L719.1 57.77M704.33 64.79L719.1 64.79M704.33 71.8L719.1 71.8M704.33 64.79L704.33 71.8M696.5 68.29L704.33 68.29M696.5 57.77L696.5 68.29M690.85 63.03L696.5 63.03M690.85 50.76L690.85 63.03M680 56.9L690.85 56.9M680 40.25L680 56.9M672.3 48.57L680 48.57M672.3 26.23L672.3 48.57M653.74 37.4L672.3 37.4M653.74 12.21L653.74 37.4M642.7 24.8L653.74 24.8M687.06 78.81L719.1 78.81M694.38 85.82L719.1 85.82M694.38 92.83L719.1 92.83M694.38 85.82L694.38 92.83M687.06 89.32L694.38 89.32M687.06 78.81L687.06 89.32M665.3 84.06L687.06 84.06M685.14 99.84L719.1 99.84M696.05 106.85L719.1 106.85M711.33 113.86L719.1 113.86M711.33 120.87L719.1 120.87M711.33 113.86L711.33 120.87M706.32 117.36L711.33 117.36M706.32 127.88L719.1 127.88M706.32 117.36L706.32 127.88M696.05 122.62L706.32 122.62M696.05 106.85L696.05 122.62M690.02 114.74L696.05 114.74M711.91 134.89L719.1 134.89M711.91 141.9L719.1 141.9M711.91 134.89L711.91 141.9M693.16 138.4L711.91 138.4M707.87 148.91L719.1 148.91M712.81 155.92L719.1 155.92M712.81 162.93L719.1 162.93M712.81 155.92L712.81 162.93M707.87 159.43L712.81 159.43M707.87 148.91L707.87 159.43M703.82 154.17L707.87 154.17M710.11 169.94L719.1 169.94M710.11 176.96L719.1 176.96M710.11 169.94L710.11 176.96M706.77 173.45L710.11 173.45M706.77 183.97L719.1 183.97M706.77 173.45L706.77 183.97M703.82 178.71L706.77 178.71M703.82 154.17L703.82 178.71M701.32 166.44L703.82 166.44M704.21 190.98L719.1 190.98M709.41 197.99L719.1 197.99M713.45 205L719.1 205M713.45 212.01L719.1 212.01M713.45 205L713.45 212.01M709.41 208.5L713.45 208.5M709.41 197.99L709.41 208.5M704.21 203.25L709.41 203.25M704.21 190.98L704.21 203.25M701.32 197.11L704.21 197.11M701.32 166.44L701.32 197.11M698.36 181.78L701.32 181.78M698.36 219.02L719.1 219.02M698.36 181.78L698.36 219.02M693.16 200.4L698.36 200.4M693.16 138.4L693.16 200.4M690.02 169.4L693.16 169.4M690.02 114.74L690.02 169.4M685.14 142.07L690.02 142.07M685.14 99.84L685.14 142.07M677.56 120.95L685.14 120.95M677.56 226.03L719.1 226.03M677.56 120.95L677.56 226.03M665.3 173.49L677.56 173.49M665.3 84.06L665.3 173.49M642.7 128.78L665.3 128.78M642.7 24.8L642.7 128.78M635.19 76.79L642.7 76.79M673.65 233.04L719.1 233.04M681.61 240.05L719.1 240.05M701.89 247.06L719.1 247.06M701.89 254.07L719.1 254.07M701.89 247.06L701.89 254.07M693.61 250.57L701.89 250.57M693.61 261.08L719.1 261.08M693.61 250.57L693.61 261.08M690.02 255.83L693.61 255.83M690.02 268.09L719.1 268.09M690.02 255.83L690.02 268.09M681.61 261.96L690.02 261.96M681.61 240.05L681.61 261.96M673.65 251.01L681.61 251.01M673.65 233.04L673.65 251.01M646.68 242.02L673.65 242.02M646.68 275.1L719.1 275.1M646.68 242.02L646.68 275.1M635.19 258.56L646.68 258.56M635.19 76.79L635.19 258.56M628.32 167.68L635.19 167.68M698.94 282.11L719.1 282.11M701.32 289.13L719.1 289.13M710.95 296.14L719.1 296.14M710.95 303.15L719.1 303.15M710.95 296.14L710.95 303.15M701.32 299.64L710.95 299.64M701.32 289.13L701.32 299.64M698.94 294.38L701.32 294.38M698.94 282.11L698.94 294.38M695.86 288.25L698.94 288.25M695.86 310.16L719.1 310.16M695.86 288.25L695.86 310.16M628.32 299.2L695.86 299.2M628.32 167.68L628.32 299.2M621.07 233.44L628.32 233.44M697.85 317.17L719.1 317.17M697.85 324.18L719.1 324.18M697.85 317.17L697.85 324.18M682.63 320.67L697.85 320.67M682.63 331.19L719.1 331.19M682.63 320.67L682.63 331.19M659.52 325.93L682.63 325.93M659.52 338.2L719.1 338.2M659.52 325.93L659.52 338.2M635.25 332.07L659.52 332.07M703.88 345.21L719.1 345.21M703.88 352.22L719.1 352.22M703.88 345.21L703.88 352.22M660.87 348.72L703.88 348.72M691.49 359.23L719.1 359.23M691.49 366.24L719.1 366.24M691.49 359.23L691.49 366.24M660.87 362.74L691.49 362.74M660.87 348.72L660.87 362.74M635.25 355.73L660.87 355.73M635.25 332.07L635.25 355.73M621.07 343.9L635.25 343.9M621.07 233.44L621.07 343.9" stroke="#303030" stroke-width="0.8" fill="none" stroke-linecap="square"/>
<circle cx="719.1" cy="8.7" r="1.08" fill="#0000ff"/>
<circle cx="719.1" cy="15.71" r="1.08" fill="#0000ff"/>
<circle cx="719.1" cy="22.72" r="1.08" fill="#0000ff"/>
<circle cx="719.1" cy="29.73" r="1.08" fill="#0000ff"/>
<circle cx="719.1" cy="36.74" r="1.08" fill="#0000ff"/>
<circle cx="719.1" cy="43.75" r="1.08" fill="#0000ff"/>
<circle cx="719.1" cy="50.76" r="1.08" fill="#0000ff"/>
<circle cx="719.1" cy="57.77" r="1.08" fill="#0000ff"/>
<circle cx="719.1" cy="64.79" r="1.08" fill="#0000ff"/>
<circle cx="719.1" cy="71.8" r="1.08" fill="#0000ff"/>
<circle cx="719.1" cy="78.81" r="1.08" fill="#deb887"/>
<circle cx="719.1" cy="85.82" r="1.08" fill="#0000ff"/>
<circle cx="719.1" cy="92.83" r="1.08" fill="#0000ff"/>
<circle cx="719.1" cy="99.84" r="1.08" fill="#0000ff"/>
<circle cx="719.1" cy="106.85" r="1.08" fill="#000080"/>
<circle cx="719.1" cy="113.86" r="1.08" fill="#0000ff"/>
<circle cx="719.1" cy="120.87" r="1.08" fill="#0000ff"/>
<circle cx="719.1" cy="127.88" r="1.08" fill="#0000ff"/>
<circle cx="719.1" cy="134.89" r="1.08" fill="#0000ff"/>
<circle cx="719.1" cy="141.9" r="1.08" fill="#0000ff"/>
<circle cx="719.1" cy="148.91" r="1.08" fill="#0000ff"/>
<circle cx="719.1" cy="155.92" r="1.08" fill="#0000ff"/>
<circle cx="719.1" cy="162.93" r="1.08" fill="#0000ff"/>
<circle cx="719.1" cy="169.94" r="1.08" fill="#0000ff"/>
<circle cx="719.1" cy="176.96" r="1.08" fill="#0000ff"/>
<circle cx="719.1" cy="183.97" r="1.08" fill="#0000ff"/>
<circle cx="719.1" cy="190.98" r="1.08" fill="#0000ff"/>
<circle cx="719.1" cy="197.99" r="1.08" fill="#0000ff"/>
<circle cx="719.1" cy="205" r="1.08" fill="#0000ff"/>
<circle cx="719.1" cy="212.01" r="1.08" fill="#0000ff"/>
<circle cx="719.1" cy="219.02" r="1.08" fill="#0000ff"/>
<circle cx="719.1" cy="226.03" r="1.08" fill="#0000ff"/>
<circle cx="719.1" cy="233.04" r="1.08" fill="#006400"/>
<circle cx="719.1" cy="240.05" r="1.08" fill="#006400"/>
<circle cx="719.1" cy="247.06" r="1.08" fill="#006400"/>
<circle cx="719.1" cy="254.07" r="1.08" fill="#006400"/>
<circle cx="719.1" cy="261.08" r="1.08" fill="#006400"/>
<circle cx="719.1" cy="268.09" r="1.08" fill="#006400"/>
<circle cx="719.1" cy="275.1" r="1.08" fill="#0000ff"/>
<circle cx="719.1" cy="282.11" r="1.08" fill="#8a2be2"/>
<circle cx="719.1" cy="289.13" r="1.08" fill="#8a2be2"/>
<circle cx="719.1" cy="296.14" r="1.08" fill="#8a2be2"/>
<circle cx="719.1" cy="303.15" r="1.08" fill="#8a2be2"/>
<circle cx="719.1" cy="310.16" r="1.08" fill="#8a2be2"/>
<circle cx="719.1" cy="317.17" r="1.08" fill="#deb887"/>
<circle cx="719.1" cy="324.18" r="1.08" fill="#deb887"/>
<circle cx="719.1" cy="331.19" r="1.08" fill="#deb887"/>
<circle cx="719.1" cy="338.2" r="1.08" fill="#deb887"/>
<circle cx="719.1" cy="345.21" r="1.08" fill="#0000ff"/>
<circle cx="719.1" cy="352.22" r="1.08" fill="#ff4500"/>
<circle cx="719.1" cy="359.23" r="1.08" fill="#0000ff"/>
<circle cx="719.1" cy="366.24" r="1.08" fill="#0000ff"/>
<circle cx="692.71" cy="12.21" r="2.7" fill="#fff" stroke="#0000ff" stroke-width="1.8"/>
<circle cx="691.69" cy="26.23" r="2.7" fill="#fff" stroke="#0000ff" stroke-width="1.8"/>
<circle cx="692.01" cy="40.25" r="2.7" fill="#fff" stroke="#0000ff" stroke-width="1.8"/>
<circle cx="704.33" cy="68.29" r="2.7" fill="#fff" stroke="#0000ff" stroke-width="1.8"/>
<circle cx="696.5" cy="63.03" r="2.7" fill="#fff" stroke="#0000ff" stroke-width="1.8"/>
<circle cx="690.85" cy="56.9" r="2.7" fill="#fff" stroke="#0000ff" stroke-width="1.8"/>
<circle cx="680" cy="48.57" r="2.7" fill="#fff" stroke="#0000ff" stroke-width="1.8"/>
<circle cx="672.3" cy="37.4" r="2.7" fill="#fff" stroke="#0000ff" stroke-width="1.8"/>
<circle cx="653.74" cy="24.8" r="2.7" fill="#fff" stroke="#0000ff" stroke-width="1.8"/>
<circle cx="694.38" cy="89.32" r="2.7" fill="#fff" stroke="#0000ff" stroke-width="1.8"/>
<circle cx="687.06" cy="84.06" r="2.7" fill="#fff" stroke="#0000ff" stroke-width="1.8"/>
<circle cx="711.33" cy="117.36" r="2.7" fill="#fff" stroke="#0000ff" stroke-width="1.8"/>
<circle cx="706.32" cy="122.62" r="2.7" fill="#fff" stroke="#0000ff" stroke-width="1.8"/>
<circle cx="696.05" cy="114.74" r="2.7" fill="#fff" stroke="#0000ff" stroke-width="1.8"/>
<circle cx="711.91" cy="138.4" r="2.7" fill="#fff" stroke="#0000ff" stroke-width="1.8"/>
<circle cx="712.81" cy="159.43" r="2.7" fill="#fff" stroke="#0000ff" stroke-width="1.8"/>
<circle cx="707.87" cy="154.17" r="2.7" fill="#fff" stroke="#0000ff" stroke-width="1.8"/>
<circle cx="710.11" cy="173.45" r="2.7" fill="#fff" stroke="#0000ff" stroke-width="1.8"/>
<circle cx="706.77" cy="178.71" r="2.7" fill="#fff" stroke="#0000ff" stroke-width="1.8"/>
<circle cx="703.82" cy="166.44" r="2.7" fill="#fff" stroke="#0000ff" stroke-width="1.8"/>
<circle cx="713.45" cy="208.5" r="2.7" fill="#fff" stroke="#0000ff" stroke-width="1.8"/>
<circle cx="709.41" cy="203.25" r="2.7" fill="#fff" stroke="#0000ff" stroke-width="1.8"/>
<circle cx="704.21" cy="197.11" r="2.7" fill="#fff" stroke="#0000ff" stroke-width="1.8"/>
<circle cx="701.32" cy="181.78" r="2.7" fill="#fff" stroke="#0000ff" stroke-width="1.8"/>
<circle cx="698.36" cy="200.4" r="2.7" fill="#fff" stroke="#0000ff" stroke-width="1.8"/>
<circle cx="693.16" cy="169.4" r="2.7" fill="#fff" stroke="#0000ff" stroke-width="1.8"/>
<circle cx="690.02" cy="142.07" r="2.7" fill="#fff" stroke="#0000ff" stroke-width="1.8"/>
<circle cx="685.14" cy="120.95" r="2.7" fill="#fff" stroke="#0000ff" stroke-width="1.8"/>
<circle cx="677.56" cy="173.49" r="2.7" fill="#fff" stroke="#0000ff" stroke-width="1.8"/>
<circle cx="665.3" cy="128.78" r="2.7" fill="#fff" stroke="#0000ff" stroke-width="1.8"/>
<circle cx="642.7" cy="76.79" r="2.7" fill="#fff" stroke="#0000ff" stroke-width="1.8"/>
<circle cx="701.89" cy="250.57" r="2.7" fill="#fff" stroke="#006400" stroke-width="1.8"/>
<circle cx="693.61" cy="255.83" r="2.7" fill="#fff" stroke="#006400" stroke-width="1.8"/>
<circle cx="690.02" cy="261.96" r="2.7" fill="#fff" stroke="#006400" stroke-width="1.8"/>
<circle cx="681.61" cy="251.01" r="2.7" fill="#fff" stroke="#006400" stroke-width="1.8"/>
<circle cx="673.65" cy="242.02" r="2.7" fill="#fff" stroke="#006400" stroke-width="1.8"/>
<circle cx="646.68" cy="258.56" r="2.7" fill="#fff" stroke="#0000ff" stroke-width="1.8"/>
<circle cx="635.19" cy="167.68" r="2.7" fill="#fff" stroke="#0000ff" stroke-width="1.8"/>
<circle cx="710.95" cy="299.64" r="2.7" fill="#fff" stroke="#8a2be2" stroke-width="1.8"/>
<circle cx="701.32" cy="294.38" r="2.7" fill="#fff" stroke="#8a2be2" stroke-width="1.8"/>
<circle cx="698.94" cy="288.25" r="2.7" fill="#fff" stroke="#8a2be2" stroke-width="1.8"/>
<circle cx="695.86" cy="299.2" r="2.7" fill="#fff" stroke="#8a2be2" stroke-width="1.8"/>
<path d="M693.52 300.55A2.7 2.7 0 0 1 696.14 296.52" stroke="#4b0082" stroke-width="1.8" fill="none"/>
<path d="M696.14 296.52A2.7 2.7 0 1 1 693.52 300.55" stroke="#8a2be2" stroke-width="1.8" fill="none"/>
<circle cx="628.32" cy="233.44" r="2.7" fill="#fff" stroke="#0000ff" stroke-width="1.8"/>
<path d="M630.66 232.09A2.7 2.7 0 0 1 630.99 233.05" stroke="#8a2be2" stroke-width="1.8" fill="none"/>
<path d="M630.99 233.05A2.7 2.7 0 1 1 630.66 232.09" stroke="#0000ff" stroke-width="1.8" fill="none"/>
<circle cx="697.85" cy="320.67" r="2.7" fill="#fff" stroke="#deb887" stroke-width="1.8"/>
<circle cx="682.63" cy="325.93" r="2.7" fill="#fff" stroke="#deb887" stroke-width="1.8"/>
<circle cx="659.52" cy="332.07" r="2.7" fill="#fff" stroke="#deb887" stroke-width="1.8"/>
<circle cx="703.88" cy="348.72" r="2.7" fill="#fff" stroke="#0000ff" stroke-width="1.8"/>
<circle cx="691.49" cy="362.74" r="2.7" fill="#fff" stroke="#0000ff" stroke-width="1.8"/>
<circle cx="660.87" cy="355.73" r="2.7" fill="#fff" stroke="#0000ff" stroke-width="1.8"/>
<circle cx="635.25" cy="343.9" r="2.7" fill="#fff" stroke="#0000ff" stroke-width="1.8"/>
<path d="M635.72 341.24A2.7 2.7 0 0 1 637.6 342.56" stroke="#deb887" stroke-width="1.8" fill="none"/>
<path d="M637.6 342.56A2.7 2.7 0 1 1 635.72 341.24" stroke="#0000ff" stroke-width="1.8" fill="none"/>
<circle cx="621.07" cy="288.67" r="2.7" fill="#fff" stroke="#0000ff" stroke-width="1.8"/>
<g font-size="7.8" font-weight="bold" text-anchor="end" fill="#222">
<text x="671.44" y="33.8">16</text>
<text x="652.89" y="21.2">12</text>
<text x="686.21" y="80.46">15</text>
<text x="684.28" y="117.35">14</text>
<text x="676.71" y="169.89">13</text>
<text x="664.44" y="125.18">11</text>
<text x="641.85" y="73.19">8</text>
<text x="672.79" y="238.42">10</text>
<text x="645.83" y="254.96">6</text>
<text x="634.33" y="164.08">7</text>
<text x="695" y="295.6">9</text>
<text x="627.47" y="229.84">3</text>
<text x="658.67" y="328.47">5</text>
<text x="660.01" y="352.13">4</text>
<text x="634.4" y="340.3">2</text>
<text x="618.61" y="283.47">1</text>
</g>
<g font-size="6.75" font-weight="bold" fill="#111">
<text x="722.7" y="11.13"><tspan font-style="italic">Scytodes</tspan> sp. 33</text>
<text x="722.7" y="18.14"><tspan font-style="italic">Scytodes</tspan> sp. 34</text>
<text x="722.7" y="25.15"><tspan font-style="italic">Scytodes</tspan> sp. 40</text>
<text x="722.7" y="32.16"><tspan font-style="italic">Scytodes</tspan> sp. 38</text>
<text x="722.7" y="39.17"><tspan font-style="italic">Scytodes</tspan> sp. 46</text>
<text x="722.7" y="46.18"><tspan font-style="italic">Scytodes</tspan> sp. 45</text>
<text x="722.7" y="53.19"><tspan font-style="italic">Scytodes</tspan> sp. 44</text>
<text x="722.7" y="60.2"><tspan font-style="italic">Scytodes</tspan> sp. 43</text>
<text x="722.7" y="67.22"><tspan font-style="italic">Scytodes</tspan> sp. 42</text>
<text x="722.7" y="74.23"><tspan font-style="italic">Scytodes</tspan> sp. 41</text>
<text x="722.7" y="81.24"><tspan font-style="italic">Scytodes</tspan> sp. 7</text>
<text x="722.7" y="88.25"><tspan font-style="italic">Scytodes aff. thoracica</tspan></text>
<text x="722.7" y="95.26"><tspan font-style="italic">Scytodes thoracica</tspan></text>
<text x="722.7" y="102.27"><tspan font-style="italic">Scytodes</tspan> sp. 31</text>
<text x="722.7" y="109.28"><tspan font-style="italic">Scytodes</tspan> sp. 30</text>
<text x="722.7" y="116.29"><tspan font-style="italic">Scytodes</tspan> sp. 29</text>
<text x="722.7" y="123.3"><tspan font-style="italic">Scytodes</tspan> sp. 28</text>
<text x="722.7" y="130.31"><tspan font-style="italic">Scytodes</tspan> sp. 23</text>
<text x="722.7" y="137.32"><tspan font-style="italic">Scytodes</tspan> sp. 22</text>
<text x="722.7" y="144.33"><tspan font-style="italic">Scytodes</tspan> sp. 21</text>
<text x="722.7" y="151.34"><tspan font-style="italic">Scytodes</tspan> sp. 11</text>
<text x="722.7" y="158.35"><tspan font-style="italic">Scytodes</tspan> sp. 10</text>
<text x="722.7" y="165.36"><tspan font-style="italic">Scytodes</tspan> sp. 9</text>
<text x="722.7" y="172.37"><tspan font-style="italic">Scytodes</tspan> sp. 14</text>
<text x="722.7" y="179.39"><tspan font-style="italic">Scytodes</tspan> sp. 13</text>
<text x="722.7" y="186.4"><tspan font-style="italic">Scytodes</tspan> sp. 12</text>
<text x="722.7" y="193.41"><tspan font-style="italic">Scytodes</tspan> sp. 15</text>
<text x="722.7" y="200.42"><tspan font-style="italic">Scytodes</tspan> sp. 16</text>
<text x="722.7" y="207.43"><tspan font-style="italic">Scytodes</tspan> sp. 18</text>
<text x="722.7" y="214.44"><tspan font-style="italic">Scytodes</tspan> sp. 17</text>
<text x="722.7" y="221.45"><tspan font-style="italic">Scytodes</tspan> sp. 19</text>
<text x="722.7" y="228.46"><tspan font-style="italic">Scytodes</tspan> sp. 32</text>
<text x="722.7" y="235.47"><tspan font-style="italic">Scytodes</tspan> sp. 67</text>
<text x="722.7" y="242.48"><tspan font-style="italic">Scytodes</tspan> sp. 63</text>
<text x="722.7" y="249.49"><tspan font-style="italic">Scytodes</tspan> sp. 65</text>
<text x="722.7" y="256.5"><tspan font-style="italic">Scytodes</tspan> sp. 64</text>
<text x="722.7" y="263.51"><tspan font-style="italic">Scytodes mayahuel</tspan></text>
<text x="722.7" y="270.52"><tspan font-style="italic">Scytodes</tspan> sp.</text>
<text x="722.7" y="277.53"><tspan font-style="italic">Scytodes</tspan> sp. 47</text>
<text x="722.7" y="284.54"><tspan font-style="italic">Scytodes</tspan> sp. 68</text>
<text x="722.7" y="291.56"><tspan font-style="italic">Scytodes</tspan> sp. 70</text>
<text x="722.7" y="298.57"><tspan font-style="italic">Scytodes</tspan> sp. 72</text>
<text x="722.7" y="305.58"><tspan font-style="italic">Scytodes</tspan> sp. 71</text>
<text x="722.7" y="312.59"><tspan font-style="italic">Scytodes</tspan> sp. 69</text>
<text x="722.7" y="319.6"><tspan font-style="italic">Scytodes</tspan> sp. 74</text>
<text x="722.7" y="326.61"><tspan font-style="italic">Scytodes</tspan> sp. 75</text>
<text x="722.7" y="333.62"><tspan font-style="italic">Scytodes</tspan> sp. 73</text>
<text x="722.7" y="340.63"><tspan font-style="italic">Scytodes socialis</tspan></text>
<text x="722.7" y="347.64"><tspan font-style="italic">Scytodes</tspan> sp. 37</text>
<text x="722.7" y="354.65"><tspan font-style="italic">Scytodes</tspan> sp.</text>
<text x="722.7" y="361.66"><tspan font-style="italic">Scytodes</tspan> sp. 36</text>
<text x="722.7" y="368.67"><tspan font-style="italic">Scytodes</tspan> sp. 35</text>
</g>
<path d="M620.94 375.5H719.1M620.94 375.5v1.16M628.77 375.5v1.16M647.07 375.5v1.16M664.98 375.5v1.16M682.89 375.5v1.16M701.12 375.5v1.16M719.1 375.5v1.16" stroke="#111" stroke-width="1" fill="none"/>
<g font-size="5" font-weight="bold" text-anchor="middle" fill="#222">
<text x="620.94" y="381.66">64</text>
<text x="628.77" y="381.66">50</text>
<text x="647.07" y="381.66">40</text>
<text x="664.98" y="381.66">30</text>
<text x="682.89" y="381.66">20</text>
<text x="701.12" y="381.66">10</text>
<text x="719.1" y="381.66">0</text>
<text x="723.31" y="381.66" text-anchor="start">Ma</text>
</g></g>
<defs><clipPath id="mclip"><rect x="369" y="413.8" width="396.3" height="167.7"/></clipPath>
<clipPath id="lclip"><path d="M365.8 429.6L372.9 430.2L383.7 431.3L390.8 432L399.2 430.8L406.4 431.4L414.7 432.6L423.1 433.2L430.2 433.2L437.4 433.2L439.8 429L443.3 431.4L446.9 433.2L450.5 431.4L454.7 432.6L454.1 435.6L449.3 435.6L448.1 437.9L443.3 439.1L441 440.9L439.2 444.2L442.1 446.2L446.9 446.8L450.5 448.3L454.1 451L457.1 452.8L458.2 449.2L460 445.6L458.8 442.1L459.4 439.7L464.8 440.3L466 441.5L469 443.9L472 444.5L474.4 442.7L477.9 445.6L480.3 448.6L483.9 450.4L485.1 451.6L481.5 454.3L477.9 454.2L474.4 454.5L469.6 456.9L473.2 455.7L475 458.1L479.1 459.3L479.1 460.2L474.4 462.3L473.2 461.1L472 460.5L468.4 462.3L467.8 464.3L466 465.2L463.6 465.8L461.8 468.8L461.2 471.8L458.8 473.5L455.3 476.5L456.5 481.9L455.9 484L454.1 482.4L453.1 479.5L451.1 478.3L446.9 477.9L445.1 479.2L442.7 478.9L439.2 478.9L436.2 480.7L435.6 484.2L435.2 487.2L437.4 491.3L439.2 492.3L442.7 491.9L443.9 489L448.1 488.4L447.5 491.9L446.3 494.9L450.5 494.9L452.5 496.1L452 500.8L453.5 503L456.7 502.6L459.4 503.6L459.1 505L457.1 503.3L455.9 505.2L452.9 504L449.7 502L447.5 498.5L442.7 497.3L439.8 494.7L436.2 495.1L431.4 493.4L426.6 490.8L426 487.8L423.1 483.9L420.1 481.3L417.7 478.3L415.1 476.3L417.1 479.5L418.9 483L421.3 486.4L418.3 483.6L415.3 480.7L413.5 477.7L412.1 475.3L408.1 472.9L406.4 470L404 466.1L403.7 462.9L404 459.1L403.1 456.4L405.2 455.7L400.4 453.4L396.8 449.2L393.2 446.2L389.1 444.5L384.9 442.7L377.7 441.5L371.8 443.3L368.8 445.6L363.4 446.2L358.6 448.6L355.1 449.2L361 444.5L358.6 442.7L354.5 440.3L359.8 437.6L353.9 436.2L358.6 435L353.3 432.8L361 430.2ZM456.5 426.7L461.2 427.8L466 429L470.8 431.4L477.9 435L475.5 437.9L473.2 439.1L466 438.5L458.8 436.7L464.8 433.2L456.5 430.8L446.9 429.6L445.7 426.7L451.7 426.7ZM412.3 429.6L418.3 432L426.6 432L431.4 430.8L426.6 427.2L415.9 426.7L409.9 428.4ZM402.8 428.4L413.5 427.2L412.3 424.9L404 425.5ZM444.5 422.5L458.8 423.1L466 420.1L477.9 416.6L468.4 415.4L446.9 416.6L442.1 418.9ZM438.6 424.9L456.5 424.9L454.1 423.1L441 422.9ZM412.3 424.3L426.6 424.9L432.6 423.7L425.4 422.5L413.5 422.5ZM438.6 420.7L446.9 420.7L444.5 417.8L437.4 418.9ZM432.6 428.4L439.8 427.8L442.1 426.1L435 426.1ZM448.1 436.2L455.3 437.9L452.9 439.7L448.1 438.5ZM481.2 457.3L485.1 458.3L488.7 458.5L489 456.9L487.5 455.1L485.7 452.8L483.3 454ZM464.8 421L470.8 423.7L476.7 423.7L482.7 424.3L486.3 427.8L487.5 430.2L491.1 432L488.1 435L491.1 437.9L492.2 439.7L494.6 441.5L497 442.1L500.6 442.9L501.8 440.3L504.2 437.3L506.6 436.2L512.5 433.8L516.1 433.2L522.1 431.4L525.7 430.5L525.7 427.8L529.2 424.9L528 421.9L531.6 418.9L537.6 417.2L528 416L519.7 414.8L509 414.8L498.2 416L489.9 416.2L480.3 416.6L474.4 418.3L470.8 419.5ZM459.4 503.6L461.8 501.1L464.8 500.2L466 499.3L468.4 500.2L470.2 501.1L475.5 501.4L477.9 501.2L480.3 503.8L483.9 506.8L487.5 507L490.5 508.6L492.2 512.7L494.6 514.7L498.8 516.9L504.2 517.2L507.8 519.6L510.1 521L510.4 523.4L507.8 527L505.4 529.9L505.4 534.7L503.6 538.8L501.8 541.2L498.2 542L494 544.8L493.8 547.7L491.1 550.7L488.1 554.3L484.5 555.2L482.3 554.5L483.9 557.2L482.7 559.6L477.9 560.2L477.3 562.6L474.4 562.6L475.9 564.3L474 567.3L471.4 568.5L473.2 570.9L469.6 573.8L470.2 576.2L473.8 579.2L470.8 580L466.6 578L463 575.6L461.8 571.5L463.6 567.3L464.8 563.8L464 559L465.4 555.4L466.6 550.7L467.2 545.9L468 540L468 535.6L464.8 533.5L461 530.3L458.8 525.8L456.7 522.2L454.9 519.8L456.5 517.5L455.5 515.7L456.5 513.3L457.9 512.1L459.4 509.2L459.4 505.6ZM544.7 471.4L549.5 472.4L555.5 470L563.8 469.6L565 473.5L569.8 475.6L574.6 477.9L575.8 475.3L579.3 475.1L586.5 477.1L590.1 476.9L590.7 478.4L592.5 483L594.3 485.4L596 488.4L596.4 491.3L598.4 494.9L600.8 496.7L603.6 499.3L603.2 500.2L608 500.6L613 499.9L612.5 502.6L609.2 508L606.8 510.9L602.6 515.1L600.2 517.2L598.7 519.8L599 522.8L599 525.8L600.2 528.7L600.2 532.3L597.2 534.7L594.3 537.6L594 541.8L591.3 544.2L591 547.1L588.9 549.5L585.9 552.8L582.3 554.3L578.1 554.5L575.8 555.2L573.7 554.3L573.4 551.9L571.6 547.7L569.8 545.4L569.2 540.6L566.2 535.3L566 532.3L568 528.1L567.4 524.6L566.5 521L563.2 516.9L562.6 513.3L563.5 509.7L562 508.6L559.1 508.8L557.3 506.4L553.1 506.8L549.5 508.2L546.5 507.7L543 508.7L540.6 507.4L538.2 505.6L536 503.2L534 500.8L532 499.1L531 496.5L532.2 494.3L532.5 491.3L531.6 489L532.8 485.8L534.6 482.7L536.4 480.9L540 478.9L540.3 476.5L541.8 474.1ZM610.7 528.1L612 532.3L611 535.3L608.9 542.4L606.2 544.2L603.8 541.2L604.7 537.6L604.4 534.1L607.4 532.3L609.2 529.9ZM541.2 470L540.6 467.8L541.4 464.6L540.8 462.9L547.1 462.3L549.9 462.4L550.5 459.3L546.3 456.4L550 456.1L549.8 454.9L553.7 454.3L554.9 453.4L557.3 451.6L557.9 450.6L562 450.2L561.8 448L561.7 446.2L564.4 445.4L564.4 447.4L563.8 449L565 449.8L568.6 449.8L574 449L575.5 449.2L577 447.8L577.5 445.6L580.9 445.9L579.9 443.6L585.3 443.2L587.7 442.7L585.9 442.1L581.7 442.4L578.7 442.7L577.3 441.5L577.5 439.1L581.7 436.7L580.5 435.8L578.1 436.2L573.4 439.7L572.4 441.5L574 442.7L572.2 444.2L571.6 446.2L571 447.2L569 448L567.3 448L566.8 446.8L565.3 444.5L564.4 443.5L561.4 444.9L558.5 444.1L557.9 441.5L559.7 439.4L563.8 437.9L567.4 435L570.4 432.6L574.6 430.8L579.3 429.9L582.9 429.6L587.7 430.2L591.9 431.4L600.8 434.4L599.6 435.6L593.7 435L593.7 437.6L596.6 437.9L599.6 437.1L605 435.6L604.4 432.8L609.2 433.5L615.1 432.4L619.9 432.5L624.1 432L631.8 432L633 427.2L639 428.4L640.2 432.6L645 428.1L647.9 426.7L655.7 424.9L668.8 423.5L676 421.7L685.5 423.1L687.3 426.1L692.7 427L703.4 427.8L707 429.6L713 428.9L718.9 427.8L730.9 429L742.8 431L754.7 430.8L764.3 432L769 432.6L769 436.7L763.7 437.3L765.4 439.7L755.3 442.7L748.7 442.7L746.4 445.1L745.2 447.4L742.8 451L739.2 453.4L737.8 451L737.4 447.4L739.2 445.1L744.6 442.1L746.4 440.9L742.8 441.5L738 442.7L736.8 443.5L730.9 443.3L722.5 443.6L718.9 445.6L713.6 449.2L715.9 449.8L720.1 451L719.5 454.5L718.9 456.9L716.5 459.3L713 462.3L709.4 462.9L707.8 463.7L706.4 465.2L704 467L706.2 470L706.2 472L702.8 472.9L702.8 470L701 468.8L701 466.8L696.8 467.6L696.3 465.5L692.7 467.6L693.9 469.4L698 469.6L695.7 471.2L694.1 472.6L696.3 475.3L697.2 477.1L696.8 478.9L695.1 481.9L693.3 484.6L690.9 486.4L687.5 487.2L683.7 488.7L683.1 489.8L681.3 488.1L679.2 489.6L678.1 491.3L680.1 494.6L681.9 497.3L682.3 499.9L679.6 501.7L677.2 503.6L676.9 501.7L674.2 499.7L672.3 497.9L671.2 499.1L670.4 501.4L671.6 504.4L673 505.8L675.4 509.2L676.2 512.2L674.2 511.3L671.8 507.4L671.6 506.2L669.2 504.4L669.5 501.4L669.4 498.5L668.5 494.6L665.8 495.1L664.4 493.1L664 490.8L661.7 488.4L660.5 487.2L658.1 488L655.7 488.6L655.1 490.2L653.3 490.8L650.1 494.1L647.6 495.5L647.7 498.5L647.1 501.7L646.1 503L645 503.8L644.4 504.4L642.9 502.6L641.4 499.1L639.6 494.9L638.8 491.3L638.6 489L636 489.2L634.2 487.4L633.6 486L631.8 484.5L628.8 483.9L625.3 484L620.5 483.4L619.7 481.9L616.9 482.3L614.5 481.3L612.4 479.2L611.5 478.1L610.1 478.1L609.2 478.9L610.1 480.9L611.5 482.4L613 482.9L613.5 484.5L616.3 485.2L618.9 482.8L619.3 484.8L621.9 485.9L623.2 487.2L621.7 489.7L620.7 491.3L617.8 493.1L614.2 494.9L610 497.3L605.6 498.7L603.8 498.8L603 496.3L602.6 494.3L600.8 491.3L598.7 488.4L597.8 485.6L595.8 483L593.7 480.7L593.5 478.9L592.8 480.9L591.3 479.5L590.8 478.3L590.4 476.7L592.8 476.7L593.7 475L594.6 471.8L595.1 470.3L593.1 470.3L590.7 471L588.3 470.8L586.5 470.3L584.5 470L583.3 468.4L583.9 467L583.2 466.2L586.5 465.2L589.5 465L593.7 464L596.6 465.2L601.4 464.6L600.8 462.9L598.4 461.3L596.6 460.1L597.2 458.1L598.8 457.9L593.7 459.1L595.4 460.1L594.3 460.5L591.9 461.1L590.7 459.9L591.9 459.3L588.9 458.7L587.3 460.2L585.9 462.3L584.9 463.5L585.5 464.6L586.5 465L583.5 466.1L582.9 465.5L580.5 465.5L580.3 466.4L579.1 465.8L579.7 467.6L580.5 468.8L579.3 470.6L577.8 470.2L577 468.2L575.2 466.1L575.2 464L572.2 462.9L569.8 461.1L568.2 459.9L566.6 460.1L566.8 461.7L568.6 463.5L571 464.3L574 466.2L572.2 465.8L571.6 467L572.2 467.7L571 468.8L570.6 466.4L569 465.5L566.8 464.5L564.4 462.9L562.6 461.3L560.8 462L557.9 462.5L556.1 462.5L555.6 463.7L552.9 465.5L551.5 467L551.9 468L551.1 469.2L549.5 470.2L546.5 470.3L545.3 471.2L544.4 470.3L543.3 469.7ZM545.3 454.5L547.7 454.2L553.5 453.1L553.9 451.3L552.3 451L551.7 449.8L550.1 448.6L549.5 447.4L549.5 445.6L547.1 445.4L548.3 444.3L545.9 444.3L544.7 445.9L545.3 447.4L546.2 448.6L548 448.7L548.3 450L546.5 450.6L546.9 451.6L545.7 452.4L548.1 452.9L546.5 453.4ZM540 452.4L544.4 451.9L544.7 450.4L545.1 448.9L543 448.3L540 449.6L540.6 451ZM523.3 436.2L525.7 437.9L529.2 438.6L535.2 437.3L534.6 435.6L530.4 435.2L525.1 435.1ZM565 420.1L571 422.9L578.1 421.3L584.1 418.9L573.4 418.6ZM613.9 429.6L618.7 430L621.1 427.2L633 423.1L630.6 422.5L618.7 424.9L613.9 427.8ZM666.4 420.1L676 421L673.6 418.3L667.6 417.8ZM715.3 424.9L728.5 424.9L724.9 423.7L717.7 423.7ZM721.3 449.4L723.1 452.2L722.9 455.1L722.3 458.5L721.3 459.3L721.5 454.5L721.1 452.2ZM719.2 464.6L720.7 462.9L720.9 460L725.2 461.9L722.9 464L720.1 463.5ZM720.5 464.9L721.3 467L720.1 470L719.9 471.5L718.7 472.4L715.3 472.8L713.9 474.1L713 472.9L710 473.5L708.2 473.5L710.3 471.8L714.1 471.5L715.1 469.7L717.1 469.6L718.9 466.7L718.9 465.2ZM707 474.1L709.1 474.1L708.8 476.7L707.3 476.9L706.6 475.1ZM710 473.8L712.4 473.3L712.1 474.4L710.6 475ZM696.8 484L697.4 484.8L696 487.8L695.2 486.6L696.3 484.2ZM681.6 491L683.7 490.2L684.3 490.8L682.5 492.3ZM647.3 502.4L649.5 505L648.5 506.8L647.3 506.8L647.1 504.4ZM695.7 491.9L697.7 491.9L697.4 494.3L696.8 496.1L699.8 498.5L699.2 499.1L696.3 497.5L695.4 496.3L695.1 494.7ZM697.4 505.6L699.2 503.8L701.6 502.3L702.8 504.4L702.2 506.4L701.4 507.1L699.8 505.6ZM698.6 500.8L701 500.5L701.6 501.7L699.2 502.6L698 502ZM691.7 503.9L694.5 501.4L694.6 500.5L692.7 503.2ZM681.9 512.1L683.1 511.9L684.9 510.9L686.7 510L689.1 508L691.2 505.6L694.1 507.7L692.4 509.7L692.7 512.7L692.1 513.3L690.9 515.7L690.3 518.4L688.5 518.6L684.9 517.7L683.1 515.7L681.9 513.5ZM665.6 507.3L668.2 507.7L671.6 510.6L675.4 513.9L676.6 516L678.4 517.7L678.1 520.8L676 520.4L673 517.5L671.6 515.1L669.6 511.9L667.6 509.7ZM677.4 522L679.2 521L681.3 521.6L684.1 521.5L686.4 522.1L688.5 523L688.4 524.2L684.3 523.8L680.7 523.2L678.7 522.7ZM689.1 523.6L693.9 523.6L698.6 523.8L698.6 524.6L693.9 524.6L689.1 524.3ZM699.2 526.1L701 524.6L703.4 523.9L702.8 524.8L700.4 526ZM694.5 520.4L694.7 518.1L693.6 517.1L694.8 513.9L696 512.4L700.8 512L699.2 513.5L695.7 513.3L696.3 515.1L699 515L697.1 516.2L698.3 518.6L698 520.2L696.8 519.2L696 517.1L695.5 520.5ZM704 511.5L705.2 512.1L705 514.5L704 513.3ZM704.6 517.5L707.9 517.5L707.6 518.2L704.6 518.1ZM708.2 514.8L711.8 514.8L713 517.8L716.3 515.7L720.1 517L724.3 518.4L726.1 520.4L728.2 521.4L727.6 522.8L731.7 526.1L728.5 526L726.1 523.6L723.1 523.9L721.9 524.8L720.1 524.8L717.1 523.8L716.5 522.2L717.5 521.6L716.3 520.1L713 519.1L710.6 518.6L710.3 517.2L708.8 515.7ZM729.1 520.5L732.6 518.9L733.6 519.4L731.8 521.3L729.7 521.3ZM687.3 540L688.1 544.8L689.1 550.1L689.9 551.9L689.1 554.6L692.7 555.4L696.3 554.1L699.2 554.1L702.2 552.2L705.8 551.4L708.4 551.3L711.8 552.7L713.6 555.2L715.9 553.1L716.3 556L718.3 556.6L719.8 559L723.1 560L724.9 559.2L726.4 560.3L728.5 558.9L730.9 558.1L731.7 555.4L732.6 553.1L734.4 550.1L735 547.1L734.4 544.2L732 542L730.3 540.4L729.1 537.9L726.4 536.5L725.5 533.5L725.1 531.5L723.1 530.9L721.9 526.7L720.8 529.3L720.7 532.3L719.5 534.7L717.7 534.4L715.3 532.7L713.6 531.7L715 528.4L710.6 527.6L710 528.4L708.2 528.5L706.4 531.5L704.6 531.7L703.2 530.4L701 532.3L699.2 534.4L697.7 535.3L696.3 537.2L693.6 538L691.1 538.4L688.1 539.8ZM724.5 562.2L728.7 562.3L728.5 564.9L726.1 565.7L725.1 564ZM757.9 554.9L759.8 555.8L761.3 557.5L761.9 558.5L764.6 558.6L764 560.4L763.1 560.7L762.8 562L760.9 563.3L760.4 562.4L760.7 561.4L759.2 560.5L760.4 559L759.8 557.2ZM757.9 562L759.8 563.5L758.1 565.5L756.3 566.5L755.7 568.4L752.9 569.2L750.5 568.5L752.3 566.4L755.9 564.3ZM450.6 487.9L454.1 486.4L457.7 487.2L461.8 489.3L463.4 489.9L459.2 490.3L459.8 489.4L457.7 488.4L454.3 487.5ZM463.1 491.8L465 490.3L468.5 490.5L470.3 491.8L467.8 492.3L466.4 492.8ZM458.5 492.1L460.9 492.3L460 492.8ZM471.7 491.9L473.5 492.1L472.6 492.7ZM479.1 575L482.7 574.8L482.1 576L479.7 575.9ZM562 465.2L563.2 465L563.4 467.4L562 467.6ZM566.8 468.8L570.4 468.6L569.8 470.3L567.4 469.6ZM580.1 471.8L583.2 472.1L580.5 472.4ZM590.4 472.4L593.1 471.6L592.1 472.7Z"/></clipPath>
<clipPath id="gclip"><path d="M464.8 421L470.8 423.7L476.7 423.7L482.7 424.3L486.3 427.8L487.5 430.2L491.1 432L488.1 435L491.1 437.9L492.2 439.7L494.6 441.5L497 442.1L500.6 442.9L501.8 440.3L504.2 437.3L506.6 436.2L512.5 433.8L516.1 433.2L522.1 431.4L525.7 430.5L525.7 427.8L529.2 424.9L528 421.9L531.6 418.9L537.6 417.2L528 416L519.7 414.8L509 414.8L498.2 416L489.9 416.2L480.3 416.6L474.4 418.3L470.8 419.5Z"/></clipPath>
<filter id="b2" x="-50%" y="-50%" width="200%" height="200%"><feGaussianBlur stdDeviation="1.6"/></filter>
<filter id="b1" x="-50%" y="-50%" width="200%" height="200%"><feGaussianBlur stdDeviation="0.8"/></filter>
<filter id="b0" x="-5%" y="-5%" width="110%" height="110%"><feGaussianBlur stdDeviation="0.35"/></filter>
<filter id="tex" x="0" y="0" width="100%" height="100%"><feTurbulence type="fractalNoise" baseFrequency="0.22" numOctaves="3" seed="7" result="n"/><feColorMatrix in="n" type="matrix" values="0 0 0 0 0.80  0 0 0 0 0.99  0 0 0 0 0.93  2.2 0 0 0 -0.95"/></filter>
<filter id="tex2" x="0" y="0" width="100%" height="100%"><feTurbulence type="fractalNoise" baseFrequency="0.3" numOctaves="2" seed="21" result="n"/><feColorMatrix in="n" type="matrix" values="0 0 0 0 0.97  0 0 0 0 0.95  0 0 0 0 0.62  0 2.6 0 0 -1.45"/></filter>
</defs>
<g clip-path="url(#mclip)">
<rect x="369" y="413.8" width="396.3" height="167.7" fill="#aea4fd"/>
<g filter="url(#b0)">
<path d="M365.8 429.6L372.9 430.2L383.7 431.3L390.8 432L399.2 430.8L406.4 431.4L414.7 432.6L423.1 433.2L430.2 433.2L437.4 433.2L439.8 429L443.3 431.4L446.9 433.2L450.5 431.4L454.7 432.6L454.1 435.6L449.3 435.6L448.1 437.9L443.3 439.1L441 440.9L439.2 444.2L442.1 446.2L446.9 446.8L450.5 448.3L454.1 451L457.1 452.8L458.2 449.2L460 445.6L458.8 442.1L459.4 439.7L464.8 440.3L466 441.5L469 443.9L472 444.5L474.4 442.7L477.9 445.6L480.3 448.6L483.9 450.4L485.1 451.6L481.5 454.3L477.9 454.2L474.4 454.5L469.6 456.9L473.2 455.7L475 458.1L479.1 459.3L479.1 460.2L474.4 462.3L473.2 461.1L472 460.5L468.4 462.3L467.8 464.3L466 465.2L463.6 465.8L461.8 468.8L461.2 471.8L458.8 473.5L455.3 476.5L456.5 481.9L455.9 484L454.1 482.4L453.1 479.5L451.1 478.3L446.9 477.9L445.1 479.2L442.7 478.9L439.2 478.9L436.2 480.7L435.6 484.2L435.2 487.2L437.4 491.3L439.2 492.3L442.7 491.9L443.9 489L448.1 488.4L447.5 491.9L446.3 494.9L450.5 494.9L452.5 496.1L452 500.8L453.5 503L456.7 502.6L459.4 503.6L459.1 505L457.1 503.3L455.9 505.2L452.9 504L449.7 502L447.5 498.5L442.7 497.3L439.8 494.7L436.2 495.1L431.4 493.4L426.6 490.8L426 487.8L423.1 483.9L420.1 481.3L417.7 478.3L415.1 476.3L417.1 479.5L418.9 483L421.3 486.4L418.3 483.6L415.3 480.7L413.5 477.7L412.1 475.3L408.1 472.9L406.4 470L404 466.1L403.7 462.9L404 459.1L403.1 456.4L405.2 455.7L400.4 453.4L396.8 449.2L393.2 446.2L389.1 444.5L384.9 442.7L377.7 441.5L371.8 443.3L368.8 445.6L363.4 446.2L358.6 448.6L355.1 449.2L361 444.5L358.6 442.7L354.5 440.3L359.8 437.6L353.9 436.2L358.6 435L353.3 432.8L361 430.2ZM456.5 426.7L461.2 427.8L466 429L470.8 431.4L477.9 435L475.5 437.9L473.2 439.1L466 438.5L458.8 436.7L464.8 433.2L456.5 430.8L446.9 429.6L445.7 426.7L451.7 426.7ZM412.3 429.6L418.3 432L426.6 432L431.4 430.8L426.6 427.2L415.9 426.7L409.9 428.4ZM402.8 428.4L413.5 427.2L412.3 424.9L404 425.5ZM444.5 422.5L458.8 423.1L466 420.1L477.9 416.6L468.4 415.4L446.9 416.6L442.1 418.9ZM438.6 424.9L456.5 424.9L454.1 423.1L441 422.9ZM412.3 424.3L426.6 424.9L432.6 423.7L425.4 422.5L413.5 422.5ZM438.6 420.7L446.9 420.7L444.5 417.8L437.4 418.9ZM432.6 428.4L439.8 427.8L442.1 426.1L435 426.1ZM448.1 436.2L455.3 437.9L452.9 439.7L448.1 438.5ZM481.2 457.3L485.1 458.3L488.7 458.5L489 456.9L487.5 455.1L485.7 452.8L483.3 454ZM464.8 421L470.8 423.7L476.7 423.7L482.7 424.3L486.3 427.8L487.5 430.2L491.1 432L488.1 435L491.1 437.9L492.2 439.7L494.6 441.5L497 442.1L500.6 442.9L501.8 440.3L504.2 437.3L506.6 436.2L512.5 433.8L516.1 433.2L522.1 431.4L525.7 430.5L525.7 427.8L529.2 424.9L528 421.9L531.6 418.9L537.6 417.2L528 416L519.7 414.8L509 414.8L498.2 416L489.9 416.2L480.3 416.6L474.4 418.3L470.8 419.5ZM459.4 503.6L461.8 501.1L464.8 500.2L466 499.3L468.4 500.2L470.2 501.1L475.5 501.4L477.9 501.2L480.3 503.8L483.9 506.8L487.5 507L490.5 508.6L492.2 512.7L494.6 514.7L498.8 516.9L504.2 517.2L507.8 519.6L510.1 521L510.4 523.4L507.8 527L505.4 529.9L505.4 534.7L503.6 538.8L501.8 541.2L498.2 542L494 544.8L493.8 547.7L491.1 550.7L488.1 554.3L484.5 555.2L482.3 554.5L483.9 557.2L482.7 559.6L477.9 560.2L477.3 562.6L474.4 562.6L475.9 564.3L474 567.3L471.4 568.5L473.2 570.9L469.6 573.8L470.2 576.2L473.8 579.2L470.8 580L466.6 578L463 575.6L461.8 571.5L463.6 567.3L464.8 563.8L464 559L465.4 555.4L466.6 550.7L467.2 545.9L468 540L468 535.6L464.8 533.5L461 530.3L458.8 525.8L456.7 522.2L454.9 519.8L456.5 517.5L455.5 515.7L456.5 513.3L457.9 512.1L459.4 509.2L459.4 505.6ZM544.7 471.4L549.5 472.4L555.5 470L563.8 469.6L565 473.5L569.8 475.6L574.6 477.9L575.8 475.3L579.3 475.1L586.5 477.1L590.1 476.9L590.7 478.4L592.5 483L594.3 485.4L596 488.4L596.4 491.3L598.4 494.9L600.8 496.7L603.6 499.3L603.2 500.2L608 500.6L613 499.9L612.5 502.6L609.2 508L606.8 510.9L602.6 515.1L600.2 517.2L598.7 519.8L599 522.8L599 525.8L600.2 528.7L600.2 532.3L597.2 534.7L594.3 537.6L594 541.8L591.3 544.2L591 547.1L588.9 549.5L585.9 552.8L582.3 554.3L578.1 554.5L575.8 555.2L573.7 554.3L573.4 551.9L571.6 547.7L569.8 545.4L569.2 540.6L566.2 535.3L566 532.3L568 528.1L567.4 524.6L566.5 521L563.2 516.9L562.6 513.3L563.5 509.7L562 508.6L559.1 508.8L557.3 506.4L553.1 506.8L549.5 508.2L546.5 507.7L543 508.7L540.6 507.4L538.2 505.6L536 503.2L534 500.8L532 499.1L531 496.5L532.2 494.3L532.5 491.3L531.6 489L532.8 485.8L534.6 482.7L536.4 480.9L540 478.9L540.3 476.5L541.8 474.1ZM610.7 528.1L612 532.3L611 535.3L608.9 542.4L606.2 544.2L603.8 541.2L604.7 537.6L604.4 534.1L607.4 532.3L609.2 529.9ZM541.2 470L540.6 467.8L541.4 464.6L540.8 462.9L547.1 462.3L549.9 462.4L550.5 459.3L546.3 456.4L550 456.1L549.8 454.9L553.7 454.3L554.9 453.4L557.3 451.6L557.9 450.6L562 450.2L561.8 448L561.7 446.2L564.4 445.4L564.4 447.4L563.8 449L565 449.8L568.6 449.8L574 449L575.5 449.2L577 447.8L577.5 445.6L580.9 445.9L579.9 443.6L585.3 443.2L587.7 442.7L585.9 442.1L581.7 442.4L578.7 442.7L577.3 441.5L577.5 439.1L581.7 436.7L580.5 435.8L578.1 436.2L573.4 439.7L572.4 441.5L574 442.7L572.2 444.2L571.6 446.2L571 447.2L569 448L567.3 448L566.8 446.8L565.3 444.5L564.4 443.5L561.4 444.9L558.5 444.1L557.9 441.5L559.7 439.4L563.8 437.9L567.4 435L570.4 432.6L574.6 430.8L579.3 429.9L582.9 429.6L587.7 430.2L591.9 431.4L600.8 434.4L599.6 435.6L593.7 435L593.7 437.6L596.6 437.9L599.6 437.1L605 435.6L604.4 432.8L609.2 433.5L615.1 432.4L619.9 432.5L624.1 432L631.8 432L633 427.2L639 428.4L640.2 432.6L645 428.1L647.9 426.7L655.7 424.9L668.8 423.5L676 421.7L685.5 423.1L687.3 426.1L692.7 427L703.4 427.8L707 429.6L713 428.9L718.9 427.8L730.9 429L742.8 431L754.7 430.8L764.3 432L769 432.6L769 436.7L763.7 437.3L765.4 439.7L755.3 442.7L748.7 442.7L746.4 445.1L745.2 447.4L742.8 451L739.2 453.4L737.8 451L737.4 447.4L739.2 445.1L744.6 442.1L746.4 440.9L742.8 441.5L738 442.7L736.8 443.5L730.9 443.3L722.5 443.6L718.9 445.6L713.6 449.2L715.9 449.8L720.1 451L719.5 454.5L718.9 456.9L716.5 459.3L713 462.3L709.4 462.9L707.8 463.7L706.4 465.2L704 467L706.2 470L706.2 472L702.8 472.9L702.8 470L701 468.8L701 466.8L696.8 467.6L696.3 465.5L692.7 467.6L693.9 469.4L698 469.6L695.7 471.2L694.1 472.6L696.3 475.3L697.2 477.1L696.8 478.9L695.1 481.9L693.3 484.6L690.9 486.4L687.5 487.2L683.7 488.7L683.1 489.8L681.3 488.1L679.2 489.6L678.1 491.3L680.1 494.6L681.9 497.3L682.3 499.9L679.6 501.7L677.2 503.6L676.9 501.7L674.2 499.7L672.3 497.9L671.2 499.1L670.4 501.4L671.6 504.4L673 505.8L675.4 509.2L676.2 512.2L674.2 511.3L671.8 507.4L671.6 506.2L669.2 504.4L669.5 501.4L669.4 498.5L668.5 494.6L665.8 495.1L664.4 493.1L664 490.8L661.7 488.4L660.5 487.2L658.1 488L655.7 488.6L655.1 490.2L653.3 490.8L650.1 494.1L647.6 495.5L647.7 498.5L647.1 501.7L646.1 503L645 503.8L644.4 504.4L642.9 502.6L641.4 499.1L639.6 494.9L638.8 491.3L638.6 489L636 489.2L634.2 487.4L633.6 486L631.8 484.5L628.8 483.9L625.3 484L620.5 483.4L619.7 481.9L616.9 482.3L614.5 481.3L612.4 479.2L611.5 478.1L610.1 478.1L609.2 478.9L610.1 480.9L611.5 482.4L613 482.9L613.5 484.5L616.3 485.2L618.9 482.8L619.3 484.8L621.9 485.9L623.2 487.2L621.7 489.7L620.7 491.3L617.8 493.1L614.2 494.9L610 497.3L605.6 498.7L603.8 498.8L603 496.3L602.6 494.3L600.8 491.3L598.7 488.4L597.8 485.6L595.8 483L593.7 480.7L593.5 478.9L592.8 480.9L591.3 479.5L590.8 478.3L590.4 476.7L592.8 476.7L593.7 475L594.6 471.8L595.1 470.3L593.1 470.3L590.7 471L588.3 470.8L586.5 470.3L584.5 470L583.3 468.4L583.9 467L583.2 466.2L586.5 465.2L589.5 465L593.7 464L596.6 465.2L601.4 464.6L600.8 462.9L598.4 461.3L596.6 460.1L597.2 458.1L598.8 457.9L593.7 459.1L595.4 460.1L594.3 460.5L591.9 461.1L590.7 459.9L591.9 459.3L588.9 458.7L587.3 460.2L585.9 462.3L584.9 463.5L585.5 464.6L586.5 465L583.5 466.1L582.9 465.5L580.5 465.5L580.3 466.4L579.1 465.8L579.7 467.6L580.5 468.8L579.3 470.6L577.8 470.2L577 468.2L575.2 466.1L575.2 464L572.2 462.9L569.8 461.1L568.2 459.9L566.6 460.1L566.8 461.7L568.6 463.5L571 464.3L574 466.2L572.2 465.8L571.6 467L572.2 467.7L571 468.8L570.6 466.4L569 465.5L566.8 464.5L564.4 462.9L562.6 461.3L560.8 462L557.9 462.5L556.1 462.5L555.6 463.7L552.9 465.5L551.5 467L551.9 468L551.1 469.2L549.5 470.2L546.5 470.3L545.3 471.2L544.4 470.3L543.3 469.7ZM545.3 454.5L547.7 454.2L553.5 453.1L553.9 451.3L552.3 451L551.7 449.8L550.1 448.6L549.5 447.4L549.5 445.6L547.1 445.4L548.3 444.3L545.9 444.3L544.7 445.9L545.3 447.4L546.2 448.6L548 448.7L548.3 450L546.5 450.6L546.9 451.6L545.7 452.4L548.1 452.9L546.5 453.4ZM540 452.4L544.4 451.9L544.7 450.4L545.1 448.9L543 448.3L540 449.6L540.6 451ZM523.3 436.2L525.7 437.9L529.2 438.6L535.2 437.3L534.6 435.6L530.4 435.2L525.1 435.1ZM565 420.1L571 422.9L578.1 421.3L584.1 418.9L573.4 418.6ZM613.9 429.6L618.7 430L621.1 427.2L633 423.1L630.6 422.5L618.7 424.9L613.9 427.8ZM666.4 420.1L676 421L673.6 418.3L667.6 417.8ZM715.3 424.9L728.5 424.9L724.9 423.7L717.7 423.7ZM721.3 449.4L723.1 452.2L722.9 455.1L722.3 458.5L721.3 459.3L721.5 454.5L721.1 452.2ZM719.2 464.6L720.7 462.9L720.9 460L725.2 461.9L722.9 464L720.1 463.5ZM720.5 464.9L721.3 467L720.1 470L719.9 471.5L718.7 472.4L715.3 472.8L713.9 474.1L713 472.9L710 473.5L708.2 473.5L710.3 471.8L714.1 471.5L715.1 469.7L717.1 469.6L718.9 466.7L718.9 465.2ZM707 474.1L709.1 474.1L708.8 476.7L707.3 476.9L706.6 475.1ZM710 473.8L712.4 473.3L712.1 474.4L710.6 475ZM696.8 484L697.4 484.8L696 487.8L695.2 486.6L696.3 484.2ZM681.6 491L683.7 490.2L684.3 490.8L682.5 492.3ZM647.3 502.4L649.5 505L648.5 506.8L647.3 506.8L647.1 504.4ZM695.7 491.9L697.7 491.9L697.4 494.3L696.8 496.1L699.8 498.5L699.2 499.1L696.3 497.5L695.4 496.3L695.1 494.7ZM697.4 505.6L699.2 503.8L701.6 502.3L702.8 504.4L702.2 506.4L701.4 507.1L699.8 505.6ZM698.6 500.8L701 500.5L701.6 501.7L699.2 502.6L698 502ZM691.7 503.9L694.5 501.4L694.6 500.5L692.7 503.2ZM681.9 512.1L683.1 511.9L684.9 510.9L686.7 510L689.1 508L691.2 505.6L694.1 507.7L692.4 509.7L692.7 512.7L692.1 513.3L690.9 515.7L690.3 518.4L688.5 518.6L684.9 517.7L683.1 515.7L681.9 513.5ZM665.6 507.3L668.2 507.7L671.6 510.6L675.4 513.9L676.6 516L678.4 517.7L678.1 520.8L676 520.4L673 517.5L671.6 515.1L669.6 511.9L667.6 509.7ZM677.4 522L679.2 521L681.3 521.6L684.1 521.5L686.4 522.1L688.5 523L688.4 524.2L684.3 523.8L680.7 523.2L678.7 522.7ZM689.1 523.6L693.9 523.6L698.6 523.8L698.6 524.6L693.9 524.6L689.1 524.3ZM699.2 526.1L701 524.6L703.4 523.9L702.8 524.8L700.4 526ZM694.5 520.4L694.7 518.1L693.6 517.1L694.8 513.9L696 512.4L700.8 512L699.2 513.5L695.7 513.3L696.3 515.1L699 515L697.1 516.2L698.3 518.6L698 520.2L696.8 519.2L696 517.1L695.5 520.5ZM704 511.5L705.2 512.1L705 514.5L704 513.3ZM704.6 517.5L707.9 517.5L707.6 518.2L704.6 518.1ZM708.2 514.8L711.8 514.8L713 517.8L716.3 515.7L720.1 517L724.3 518.4L726.1 520.4L728.2 521.4L727.6 522.8L731.7 526.1L728.5 526L726.1 523.6L723.1 523.9L721.9 524.8L720.1 524.8L717.1 523.8L716.5 522.2L717.5 521.6L716.3 520.1L713 519.1L710.6 518.6L710.3 517.2L708.8 515.7ZM729.1 520.5L732.6 518.9L733.6 519.4L731.8 521.3L729.7 521.3ZM687.3 540L688.1 544.8L689.1 550.1L689.9 551.9L689.1 554.6L692.7 555.4L696.3 554.1L699.2 554.1L702.2 552.2L705.8 551.4L708.4 551.3L711.8 552.7L713.6 555.2L715.9 553.1L716.3 556L718.3 556.6L719.8 559L723.1 560L724.9 559.2L726.4 560.3L728.5 558.9L730.9 558.1L731.7 555.4L732.6 553.1L734.4 550.1L735 547.1L734.4 544.2L732 542L730.3 540.4L729.1 537.9L726.4 536.5L725.5 533.5L725.1 531.5L723.1 530.9L721.9 526.7L720.8 529.3L720.7 532.3L719.5 534.7L717.7 534.4L715.3 532.7L713.6 531.7L715 528.4L710.6 527.6L710 528.4L708.2 528.5L706.4 531.5L704.6 531.7L703.2 530.4L701 532.3L699.2 534.4L697.7 535.3L696.3 537.2L693.6 538L691.1 538.4L688.1 539.8ZM724.5 562.2L728.7 562.3L728.5 564.9L726.1 565.7L725.1 564ZM757.9 554.9L759.8 555.8L761.3 557.5L761.9 558.5L764.6 558.6L764 560.4L763.1 560.7L762.8 562L760.9 563.3L760.4 562.4L760.7 561.4L759.2 560.5L760.4 559L759.8 557.2ZM757.9 562L759.8 563.5L758.1 565.5L756.3 566.5L755.7 568.4L752.9 569.2L750.5 568.5L752.3 566.4L755.9 564.3ZM450.6 487.9L454.1 486.4L457.7 487.2L461.8 489.3L463.4 489.9L459.2 490.3L459.8 489.4L457.7 488.4L454.3 487.5ZM463.1 491.8L465 490.3L468.5 490.5L470.3 491.8L467.8 492.3L466.4 492.8ZM458.5 492.1L460.9 492.3L460 492.8ZM471.7 491.9L473.5 492.1L472.6 492.7ZM479.1 575L482.7 574.8L482.1 576L479.7 575.9ZM562 465.2L563.2 465L563.4 467.4L562 467.6ZM566.8 468.8L570.4 468.6L569.8 470.3L567.4 469.6ZM580.1 471.8L583.2 472.1L580.5 472.4ZM590.4 472.4L593.1 471.6L592.1 472.7Z" fill="#a8f6a4" stroke="#b4e8d4" stroke-width="0.5" stroke-linejoin="round"/>
<g clip-path="url(#lclip)"><g filter="url(#b2)">
<ellipse cx="429" cy="464" rx="5.4" ry="11.9" fill="#b0f6ee" opacity="0.95" transform="rotate(-12 429 464)"/>
<ellipse cx="406.4" cy="448.6" rx="7.2" ry="8.3" fill="#b0f6ee" opacity="0.9" transform="rotate(-30 406.4 448.6)"/>
<ellipse cx="384.9" cy="439.1" rx="11.9" ry="4.2" fill="#b0f6ee" opacity="0.85"/>
<ellipse cx="456.5" cy="468.8" rx="1.8" ry="5.9" fill="#b0f6ee" opacity="0.6" transform="rotate(-35 456.5 468.8)"/>
<ellipse cx="470.8" cy="449.8" rx="7.2" ry="4.7" fill="#b0f6ee" opacity="0.5"/>
<ellipse cx="468.4" cy="433.2" rx="4.8" ry="3.6" fill="#b0f6ee" opacity="0.7"/>
<ellipse cx="458.8" cy="418.9" rx="9.5" ry="2.4" fill="#b0f6ee" opacity="0.7"/>
<ellipse cx="418.3" cy="458.1" rx="4.8" ry="5.9" fill="#b0f6ee" opacity="0.8"/>
<ellipse cx="432.6" cy="478.3" rx="3.6" ry="4.7" fill="#b0f6ee" opacity="0.7"/>
<ellipse cx="444.5" cy="496.1" rx="3.6" ry="2.4" fill="#b0f6ee" opacity="0.6"/>
<ellipse cx="418.9" cy="465.2" rx="8.4" ry="10.1" fill="#f7f09a" opacity="1" transform="rotate(-15 418.9 465.2)"/>
<ellipse cx="423.1" cy="470" rx="4.2" ry="4.7" fill="#f5e96e" opacity="0.8"/>
<ellipse cx="411.1" cy="453.4" rx="2.4" ry="4.7" fill="#f7f09a" opacity="0.7" transform="rotate(-30 411.1 453.4)"/>
<ellipse cx="428.4" cy="485.4" rx="3.6" ry="7.1" fill="#f7f09a" opacity="1" transform="rotate(-25 428.4 485.4)"/>
<ellipse cx="432.6" cy="490.8" rx="4.2" ry="1.8" fill="#f7f09a" opacity="0.9"/>
<ellipse cx="409.9" cy="469.4" rx="1.2" ry="3.6" fill="#f7f09a" opacity="0.6" transform="rotate(-20 409.9 469.4)"/>
<ellipse cx="495.8" cy="531.7" rx="8.4" ry="9.5" fill="#b0f6ee" opacity="0.85"/>
<ellipse cx="477.9" cy="509.2" rx="6" ry="2.4" fill="#b0f6ee" opacity="0.7"/>
<ellipse cx="469.6" cy="564.9" rx="3" ry="9.5" fill="#b0f6ee" opacity="0.85"/>
<ellipse cx="474.4" cy="544.8" rx="3.6" ry="9.5" fill="#b0f6ee" opacity="0.8"/>
<ellipse cx="463.6" cy="516.3" rx="2.4" ry="10.7" fill="#b0f6ee" opacity="0.6" transform="rotate(-25 463.6 516.3)"/>
<ellipse cx="466" cy="505.6" rx="3" ry="3.6" fill="#b0f6ee" opacity="0.6"/>
<ellipse cx="470.8" cy="536.5" rx="3.8" ry="9.5" fill="#f7f09a" opacity="1" transform="rotate(12 470.8 536.5)"/>
<ellipse cx="467.8" cy="551.9" rx="1.9" ry="8.3" fill="#f7f09a" opacity="0.9"/>
<ellipse cx="461.2" cy="525.8" rx="2.4" ry="5.9" fill="#f7f09a" opacity="0.85" transform="rotate(-30 461.2 525.8)"/>
<ellipse cx="460" cy="513.9" rx="1.2" ry="3.6" fill="#f7f09a" opacity="0.6" transform="rotate(-15 460 513.9)"/>
<ellipse cx="580.5" cy="538.8" rx="13.1" ry="15.4" fill="#b0f6ee" opacity="1"/>
<ellipse cx="580.5" cy="540" rx="8.4" ry="10.7" fill="#b0f6ee" opacity="0.9"/>
<ellipse cx="592.5" cy="521" rx="7.2" ry="11.9" fill="#b0f6ee" opacity="0.9"/>
<ellipse cx="597.8" cy="503.2" rx="7.2" ry="6.5" fill="#b0f6ee" opacity="0.9"/>
<ellipse cx="571" cy="523.4" rx="4.8" ry="7.1" fill="#b0f6ee" opacity="0.7"/>
<ellipse cx="560.3" cy="485.4" rx="6" ry="3" fill="#b0f6ee" opacity="0.75"/>
<ellipse cx="573.4" cy="489.6" rx="4.2" ry="3" fill="#b0f6ee" opacity="0.75"/>
<ellipse cx="580.5" cy="498.5" rx="3" ry="2.4" fill="#b0f6ee" opacity="0.6"/>
<ellipse cx="547.1" cy="475.3" rx="7.2" ry="2" fill="#b0f6ee" opacity="0.85" transform="rotate(10 547.1 475.3)"/>
<ellipse cx="565" cy="505.6" rx="3.6" ry="3.6" fill="#b0f6ee" opacity="0.6"/>
<ellipse cx="538.8" cy="502" rx="2.4" ry="1.8" fill="#b0f6ee" opacity="0.5"/>
<ellipse cx="592.5" cy="483" rx="1.8" ry="4.7" fill="#b0f6ee" opacity="0.5" transform="rotate(-20 592.5 483)"/>
<ellipse cx="562.6" cy="492.5" rx="2.4" ry="2.4" fill="#b0f6ee" opacity="0.5"/>
<ellipse cx="598.4" cy="502.6" rx="2.6" ry="4.7" fill="#f7f09a" opacity="1" transform="rotate(-10 598.4 502.6)"/>
<ellipse cx="595.4" cy="515.1" rx="1.6" ry="3" fill="#f8de86" opacity="0.9"/>
<ellipse cx="587.7" cy="517.5" rx="1.2" ry="3" fill="#f8de86" opacity="0.8"/>
<ellipse cx="571" cy="529.3" rx="2.4" ry="3" fill="#f8de86" opacity="0.85"/>
<ellipse cx="572.2" cy="540.6" rx="1.7" ry="3.6" fill="#f8de86" opacity="0.85"/>
<ellipse cx="585.9" cy="548.9" rx="2.6" ry="1.9" fill="#f8de86" opacity="0.9"/>
<ellipse cx="545.3" cy="476.5" rx="2.4" ry="0.9" fill="#f7f09a" opacity="0.7" transform="rotate(15 545.3 476.5)"/>
<ellipse cx="592.5" cy="524.6" rx="1.2" ry="2.4" fill="#f8de86" opacity="0.6"/>
<ellipse cx="581.7" cy="528.1" rx="1.8" ry="1.2" fill="#f8de86" opacity="0.5"/>
<ellipse cx="608" cy="537" rx="1.9" ry="5.9" fill="#b0f6ee" opacity="0.85" transform="rotate(-12 608 537)"/>
<ellipse cx="605" cy="486.6" rx="7.2" ry="9.5" fill="#b0f6ee" opacity="0.9" transform="rotate(-20 605 486.6)"/>
<ellipse cx="603.8" cy="494.3" rx="1.8" ry="4.7" fill="#f7f09a" opacity="0.9" transform="rotate(-20 603.8 494.3)"/>
<ellipse cx="599.6" cy="481.9" rx="1.8" ry="3.6" fill="#f7f09a" opacity="0.5" transform="rotate(-25 599.6 481.9)"/>
<ellipse cx="593.7" cy="467.6" rx="9.5" ry="2.6" fill="#b0f6ee" opacity="0.9"/>
<ellipse cx="600.8" cy="467" rx="4.2" ry="1.9" fill="#f7f09a" opacity="0.9"/>
<ellipse cx="604.4" cy="463.3" rx="3.6" ry="1.1" fill="#f7f09a" opacity="0.8" transform="rotate(-10 604.4 463.3)"/>
<ellipse cx="616.3" cy="475.3" rx="9.5" ry="5.9" fill="#b0f6ee" opacity="0.9" transform="rotate(-20 616.3 475.3)"/>
<ellipse cx="613.9" cy="475.3" rx="6" ry="3" fill="#f7f09a" opacity="0.9" transform="rotate(-35 613.9 475.3)"/>
<ellipse cx="621.1" cy="478.3" rx="3.6" ry="3.6" fill="#f7f09a" opacity="0.7"/>
<ellipse cx="621.1" cy="470.6" rx="4.8" ry="1.4" fill="#f7f09a" opacity="0.7"/>
<ellipse cx="631.2" cy="473.5" rx="6" ry="3.6" fill="#f5e96e" opacity="1"/>
<ellipse cx="656.9" cy="473.5" rx="16.7" ry="6.5" fill="#f5e96e" opacity="1"/>
<ellipse cx="671.2" cy="477.7" rx="4.8" ry="7.1" fill="#f7f09a" opacity="1"/>
<ellipse cx="642.6" cy="465.8" rx="8.4" ry="3.6" fill="#f7f09a" opacity="0.95"/>
<ellipse cx="637.8" cy="468.8" rx="3.6" ry="3" fill="#f5e96e" opacity="1"/>
<ellipse cx="674.8" cy="470" rx="6" ry="3.6" fill="#f7f09a" opacity="0.8"/>
<ellipse cx="668.8" cy="458.1" rx="14.3" ry="5.9" fill="#b0f6ee" opacity="0.9"/>
<ellipse cx="665.2" cy="456.3" rx="6" ry="2.4" fill="#f7f09a" opacity="0.8" transform="rotate(-10 665.2 456.3)"/>
<ellipse cx="658.1" cy="455.7" rx="3.6" ry="2.4" fill="#f7f09a" opacity="0.8" transform="rotate(-20 658.1 455.7)"/>
<ellipse cx="680.7" cy="472.4" rx="7.2" ry="7.1" fill="#b0f6ee" opacity="0.85"/>
<ellipse cx="685.5" cy="464" rx="8.4" ry="3.6" fill="#b0f6ee" opacity="0.8"/>
<ellipse cx="672.4" cy="483.6" rx="3.6" ry="3.6" fill="#f7f09a" opacity="0.8"/>
<ellipse cx="678.4" cy="481.9" rx="4.8" ry="3.6" fill="#b0f6ee" opacity="0.8"/>
<ellipse cx="692.7" cy="481.9" rx="3.6" ry="4.2" fill="#b0f6ee" opacity="0.5"/>
<ellipse cx="703.4" cy="464" rx="3" ry="3" fill="#b0f6ee" opacity="0.6"/>
<ellipse cx="671.2" cy="436.7" rx="14.3" ry="7.1" fill="#b0f6ee" opacity="0.8"/>
<ellipse cx="718.9" cy="437.3" rx="20.3" ry="5.9" fill="#b0f6ee" opacity="0.9"/>
<ellipse cx="707" cy="435.6" rx="2.4" ry="4.7" fill="#f7f09a" opacity="0.5" transform="rotate(20 707 435.6)"/>
<ellipse cx="726.1" cy="436.7" rx="6" ry="1.8" fill="#f7f09a" opacity="0.5" transform="rotate(-20 726.1 436.7)"/>
<ellipse cx="742.8" cy="438.5" rx="6" ry="2.4" fill="#f7f09a" opacity="0.4"/>
<ellipse cx="741.6" cy="447.4" rx="1.6" ry="4.7" fill="#b0f6ee" opacity="0.8" transform="rotate(15 741.6 447.4)"/>
<ellipse cx="683.1" cy="448.6" rx="11.9" ry="4.2" fill="#b0f6ee" opacity="0.85" transform="rotate(-10 683.1 448.6)"/>
<ellipse cx="689.1" cy="446.2" rx="6" ry="2.4" fill="#f7f09a" opacity="0.4" transform="rotate(-15 689.1 446.2)"/>
<ellipse cx="713" cy="452.2" rx="6" ry="4.7" fill="#b0f6ee" opacity="0.7"/>
<ellipse cx="757.1" cy="435.6" rx="7.2" ry="3" fill="#b0f6ee" opacity="0.8"/>
<ellipse cx="622.3" cy="441.5" rx="1.2" ry="8.3" fill="#b0f6ee" opacity="0.5"/>
<ellipse cx="643.8" cy="493.7" rx="4.2" ry="7.7" fill="#b0f6ee" opacity="0.85"/>
<ellipse cx="672.4" cy="490.2" rx="4.2" ry="4.2" fill="#b0f6ee" opacity="0.75"/>
<ellipse cx="688.5" cy="512.1" rx="3" ry="3" fill="#b0f6ee" opacity="0.6"/>
<ellipse cx="718.9" cy="519.8" rx="7.2" ry="1.4" fill="#b0f6ee" opacity="0.9" transform="rotate(10 718.9 519.8)"/>
<ellipse cx="718.9" cy="519.6" rx="4.8" ry="0.7" fill="#f7f09a" opacity="0.8" transform="rotate(10 718.9 519.6)"/>
<ellipse cx="716.5" cy="471.2" rx="2.4" ry="1.8" fill="#b0f6ee" opacity="0.7" transform="rotate(30 716.5 471.2)"/>
<ellipse cx="671.8" cy="514.5" rx="1.2" ry="5.9" fill="#b0f6ee" opacity="0.5" transform="rotate(-40 671.8 514.5)"/>
<ellipse cx="696.3" cy="485.4" rx="0.7" ry="1.5" fill="#b0f6ee" opacity="0.7"/>
<ellipse cx="697.4" cy="516.3" rx="2.4" ry="3.6" fill="#b0f6ee" opacity="0.5"/>
<ellipse cx="699.8" cy="504.4" rx="1.8" ry="1.8" fill="#b0f6ee" opacity="0.5"/>
<ellipse cx="696.8" cy="493.7" rx="1.2" ry="1.8" fill="#b0f6ee" opacity="0.5"/>
<ellipse cx="563.8" cy="458.7" rx="5.4" ry="1.5" fill="#b0f6ee" opacity="0.95"/>
<ellipse cx="562" cy="458.9" rx="2.4" ry="0.7" fill="#f7f09a" opacity="0.7"/>
<ellipse cx="547.1" cy="466.4" rx="4.4" ry="3.2" fill="#b0f6ee" opacity="0.9"/>
<ellipse cx="566.2" cy="440.3" rx="2.4" ry="7.7" fill="#b0f6ee" opacity="0.85" transform="rotate(-32 566.2 440.3)"/>
<ellipse cx="579.3" cy="460.5" rx="4.8" ry="4.2" fill="#b0f6ee" opacity="0.6"/>
<ellipse cx="577" cy="465.2" rx="3.6" ry="3.6" fill="#b0f6ee" opacity="0.7"/>
<ellipse cx="567.4" cy="463.5" rx="1.2" ry="3" fill="#b0f6ee" opacity="0.6" transform="rotate(-40 567.4 463.5)"/>
<ellipse cx="555.5" cy="460.5" rx="1.8" ry="1.8" fill="#b0f6ee" opacity="0.5"/>
<ellipse cx="551.9" cy="463.2" rx="2.4" ry="0.6" fill="#b0f6ee" opacity="0.7"/>
<ellipse cx="697.4" cy="543.6" rx="8.4" ry="5.9" fill="#b0f6ee" opacity="0.7"/>
<ellipse cx="710.6" cy="541.8" rx="6" ry="3" fill="#b0f6ee" opacity="0.7"/>
<ellipse cx="728.5" cy="549.5" rx="2.4" ry="9.5" fill="#b0f6ee" opacity="0.85" transform="rotate(-20 728.5 549.5)"/>
<ellipse cx="754.7" cy="566.1" rx="2.4" ry="1.8" fill="#b0f6ee" opacity="0.8" transform="rotate(-40 754.7 566.1)"/>
<ellipse cx="761.9" cy="560.2" rx="1.2" ry="1.8" fill="#b0f6ee" opacity="0.6"/>
<ellipse cx="726.7" cy="563.8" rx="1.6" ry="1.4" fill="#b0f6ee" opacity="0.6"/>
</g>
<rect x="369" y="413.8" width="396.3" height="167.7" filter="url(#tex)" opacity=".8"/>
</g>
<g clip-path="url(#gclip)"><g filter="url(#b1)">
<path d="M464.8 421L470.8 423.7L476.7 423.7L482.7 424.3L486.3 427.8L487.5 430.2L491.1 432L488.1 435L491.1 437.9L492.2 439.7L494.6 441.5L497 442.1L500.6 442.9L501.8 440.3L504.2 437.3L506.6 436.2L512.5 433.8L516.1 433.2L522.1 431.4L525.7 430.5L525.7 427.8L529.2 424.9L528 421.9L531.6 418.9L537.6 417.2L528 416L519.7 414.8L509 414.8L498.2 416L489.9 416.2L480.3 416.6L474.4 418.3L470.8 419.5Z" fill="#b4f6e4" opacity=".8"/>
<path d="M484 422L494 420L506 419.4L520 422L522.4 425L518 431L511 435L504 437L502 443L498 443L495.6 437L494 431L488 425Z" fill="#f4f03c"/>
<path d="M489 422.8L500 421.6L512 422L518.5 425.2L514 430.5L506 433.5" fill="none" stroke="#cfca14" stroke-width="1.8"/>
<path d="M495.5 423L497.5 431L499.5 438" fill="none" stroke="#cfca14" stroke-width="1.6"/>
<ellipse cx="507" cy="428" rx="6.5" ry="3.2" fill="#ffffc0"/>
<ellipse cx="499.5" cy="440" rx="1.3" ry="2" fill="#ffffc0"/>
</g></g>
<path d="M608 460.5L611.5 458.7L615.1 458.7L615.1 460.5L612.7 461.1L612.1 462.9L614.5 464L615.1 466.4L616.3 468.2L615.7 470L612.7 470.3L610.4 469.4L610.1 467.3L611 465.8L608.6 463.5L608 461.7ZM621.7 458.7L624.7 458.7L624.7 461.7L621.7 461.7ZM676 452.5L678.4 451.6L682.5 448L683.1 447.7L681.3 450.4ZM442.1 458.3L446.9 456.3L450.5 456.9L451.1 458.7L448.1 458.7L444.5 458.5ZM447.2 464L448.9 464L450.5 459.9L448.1 459.9ZM451.1 459.3L455.3 459.3L456.5 461.1L454.1 462.9L452.3 461.7ZM452.5 464.5L457.7 463.1L460.6 462.3L460.6 461.7L457.1 462L454.1 463.5ZM433.8 450.4L436.2 450L437 454L435.6 454ZM404 435.6L409.9 434.4L411.1 436.2L406.4 436.7ZM412.3 441.5L419.5 439.4L421.9 439.7L415.9 441.7Z" fill="#aea4fd"/>
</g>
</g>
<ellipse cx="675.5" cy="503.2" rx="38" ry="21.5" transform="rotate(13 675.5 503.2)" fill="none" stroke="#111" stroke-width="0.8" stroke-dasharray="7 5.5" stroke-dashoffset="3"/>
<path d="M370 493C372.7 493.1 380 493.2 386 493.4C392 493.6 400 493.8 406 494.2C412 494.6 419.3 495.4 422 495.6L423 491.6L446 497L422.4 503.9L422.4 501.6C419 501.5 408.7 501.7 402 501C395.3 500.3 387.3 498.9 382 497.6C376.7 496.3 372 493.8 370 493Z" fill="#fff" stroke="#0a0a0a" stroke-width="0.9" stroke-linejoin="miter"/>
<path d="M423 491.6L446 497L422.4 503.9" fill="none" stroke="#0a0a0a" stroke-width="1.5" stroke-linejoin="miter"/>
<path d="M669.5 490C667.3 487.2 661.4 478.6 656.5 473.5C651.6 468.4 645.8 463.6 640 459.6C634.2 455.7 626.7 451.8 622 449.8C617.3 447.8 613.5 448 611.8 447.6L610.5 445.6L578.3 454L609 463.4L610 460.4C612 460.5 617 459.4 622 461C627 462.6 634.2 466.5 640 470.2C645.8 473.9 652.1 479.7 657 483C661.9 486.3 667.4 488.8 669.5 490Z" fill="#fff" stroke="#0a0a0a" stroke-width="0.9" stroke-linejoin="miter"/>
<path d="M610.5 445.6L578.3 454L609 463.4" fill="none" stroke="#0a0a0a" stroke-width="1.5" stroke-linejoin="miter"/>
<path d="M668.8 489.8C666.2 489.7 658.3 488.3 653.5 489.3C648.7 490.3 643.4 493.6 639.8 496C636.2 498.4 633.3 502.4 632 503.7L629 501.3L617.8 517.5L636.6 511.8L634.8 509.6C636.3 508.3 640.3 504.6 643.9 502C647.5 499.4 652.1 496 656.3 494C660.4 492 666.7 490.5 668.8 489.8Z" fill="#fff" stroke="#0a0a0a" stroke-width="0.9" stroke-linejoin="miter"/>
<path d="M629 501.3L617.8 517.5L636.6 511.8" fill="none" stroke="#0a0a0a" stroke-width="1.5" stroke-linejoin="miter"/>
<path d="M679.6 487.4C683.5 488.2 695.4 489.6 703 492C710.6 494.4 719.2 499.1 725 501.5C730.8 503.9 735.4 505.7 737.5 506.5L738 502.2L764.1 513.9L738.5 518.2L738 513C734.8 512.3 725.8 510.9 719 508.6C712.2 506.3 704.1 502.5 697.5 499C690.9 495.5 682.6 489.3 679.6 487.4Z" fill="#fff" stroke="#0a0a0a" stroke-width="0.9" stroke-linejoin="miter"/>
<path d="M738 502.2L764.1 513.9L738.5 518.2" fill="none" stroke="#0a0a0a" stroke-width="1.5" stroke-linejoin="miter"/>
<path d="M673.3 512.5C670.9 513.9 664.1 518.3 659 520.8C653.9 523.3 648.1 526.1 642.5 527.6C636.9 529.1 628.3 529.4 625.5 529.8L622.7 527.2L610.9 534L624.6 536.6L626 534.5C628.8 534.1 636.8 533.9 642.5 532.3C648.2 530.7 655.3 528.2 660.4 524.9C665.5 521.6 671.1 514.6 673.3 512.5Z" fill="#fff" stroke="#0a0a0a" stroke-width="0.9" stroke-linejoin="miter"/>
<path d="M622.7 527.2L610.9 534L624.6 536.6" fill="none" stroke="#0a0a0a" stroke-width="1.5" stroke-linejoin="miter"/>
<path d="M674.1 513C672.5 515.2 669.8 521.8 664.5 526.3C659.2 530.8 651.1 536.9 642.5 540C633.9 543.1 617.8 544.2 612.8 545L609.5 542.3L594.4 550.2L613.6 555.6L615 552.4C620 551 636.8 547.8 645.3 544.1C653.8 540.4 661.1 535.6 665.9 530.4C670.7 525.2 672.7 515.9 674.1 513Z" fill="#fff" stroke="#0a0a0a" stroke-width="0.9" stroke-linejoin="miter"/>
<path d="M609.5 542.3L594.4 550.2L613.6 555.6" fill="none" stroke="#0a0a0a" stroke-width="1.5" stroke-linejoin="miter"/>
<g font-size="5.1" font-weight="bold" fill="#3a2fc4" text-anchor="middle">
<text x="414.5" y="500.6" transform="rotate(3 414.5 499)">46.5–25.1 Ma</text>
<text x="620" y="458.2" transform="rotate(25 620 456.6)">50.3–12.8 Ma</text>
<text x="636.5" y="503" transform="rotate(-33 636.5 501.4)">20.8–17.6 Ma</text>
<text x="727.5" y="508.4" transform="rotate(19 727.5 506.8)">46.5–25.1 Ma</text>
<text x="637" y="530.9" transform="rotate(-13 637 529.3)">46.5–23.0 Ma</text>
<text x="627.5" y="547.2" transform="rotate(-16 627.5 545.6)">32.5–8.5 Ma</text>
</g>
<g font-size="8.45" fill="#111">
<text x="564.4" y="462.2">Europe</text>
<text x="659.6" y="467.2">Asia</text>
<text x="579.8" y="529.7">East Africa</text>
<text x="543.8" y="551.7">South Africa</text>
<text x="451" y="499.1">Central America</text>
</g>
</svg>
</body></html>
